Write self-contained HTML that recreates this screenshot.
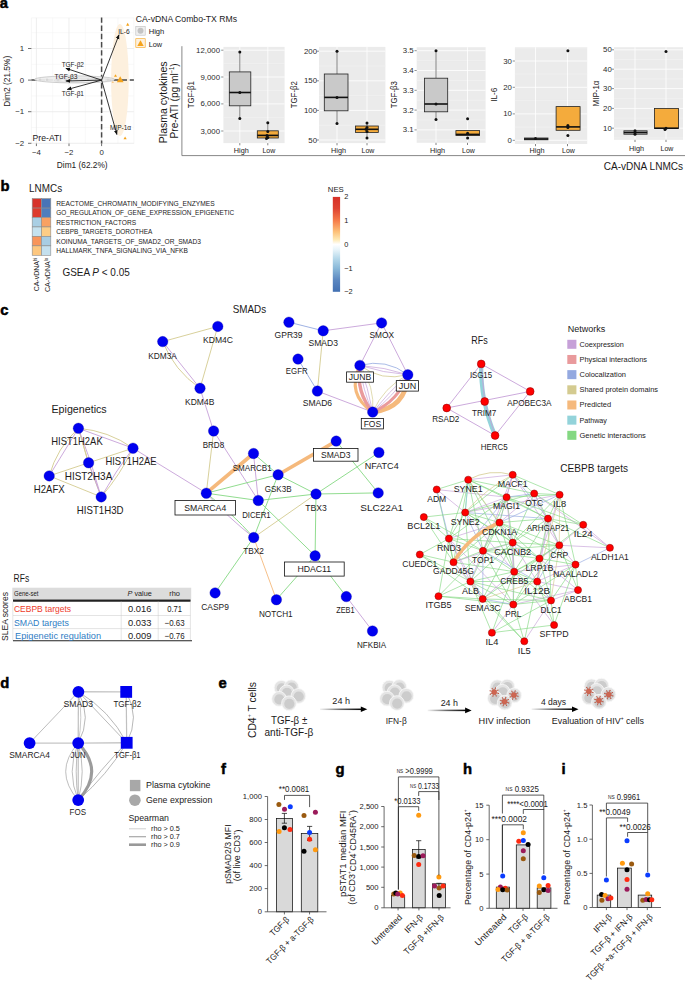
<!DOCTYPE html>
<html><head><meta charset="utf-8"><style>
html,body{margin:0;padding:0;background:#fff;}
svg{display:block;font-family:"Liberation Sans", sans-serif;}
</style></head><body>
<svg width="685" height="983" viewBox="0 0 685 983">
<rect width="685" height="983" fill="#fff"/>
<text x="-0.20" y="2.80" font-size="14.8" text-anchor="start" dominant-baseline="central" fill="#000" font-weight="bold" style="stroke:#000;stroke-width:0.5">a</text>
<line x1="52.70" y1="17.90" x2="52.70" y2="143.50" stroke="#f2f2f2" stroke-width="0.5" />
<line x1="85.30" y1="17.90" x2="85.30" y2="143.50" stroke="#f2f2f2" stroke-width="0.5" />
<line x1="117.90" y1="17.90" x2="117.90" y2="143.50" stroke="#f2f2f2" stroke-width="0.5" />
<line x1="31.40" y1="32.70" x2="133.90" y2="32.70" stroke="#f2f2f2" stroke-width="0.5" />
<line x1="31.40" y1="64.30" x2="133.90" y2="64.30" stroke="#f2f2f2" stroke-width="0.5" />
<line x1="31.40" y1="95.90" x2="133.90" y2="95.90" stroke="#f2f2f2" stroke-width="0.5" />
<line x1="31.40" y1="127.50" x2="133.90" y2="127.50" stroke="#f2f2f2" stroke-width="0.5" />
<line x1="31.40" y1="17.90" x2="31.40" y2="143.50" stroke="#f0f0f0" stroke-width="0.6" />
<line x1="133.90" y1="17.90" x2="133.90" y2="143.50" stroke="#f0f0f0" stroke-width="0.6" />
<line x1="31.40" y1="17.90" x2="133.90" y2="17.90" stroke="#f0f0f0" stroke-width="0.6" />
<line x1="36.40" y1="17.90" x2="36.40" y2="143.50" stroke="#e6e6e6" stroke-width="0.7" />
<line x1="69.00" y1="17.90" x2="69.00" y2="143.50" stroke="#e6e6e6" stroke-width="0.7" />
<line x1="101.60" y1="17.90" x2="101.60" y2="143.50" stroke="#e6e6e6" stroke-width="0.7" />
<line x1="31.40" y1="48.50" x2="133.90" y2="48.50" stroke="#e6e6e6" stroke-width="0.7" />
<line x1="31.40" y1="80.10" x2="133.90" y2="80.10" stroke="#e6e6e6" stroke-width="0.7" />
<line x1="31.40" y1="111.70" x2="133.90" y2="111.70" stroke="#e6e6e6" stroke-width="0.7" />
<line x1="31.40" y1="143.30" x2="133.90" y2="143.30" stroke="#e6e6e6" stroke-width="0.7" />
<line x1="36.40" y1="143.50" x2="36.40" y2="146.10" stroke="#333" stroke-width="0.7" />
<line x1="69.00" y1="143.50" x2="69.00" y2="146.10" stroke="#333" stroke-width="0.7" />
<line x1="101.60" y1="143.50" x2="101.60" y2="146.10" stroke="#333" stroke-width="0.7" />
<line x1="28.00" y1="48.50" x2="31.40" y2="48.50" stroke="#333" stroke-width="0.7" />
<line x1="28.00" y1="80.10" x2="31.40" y2="80.10" stroke="#333" stroke-width="0.7" />
<line x1="28.00" y1="111.70" x2="31.40" y2="111.70" stroke="#333" stroke-width="0.7" />
<line x1="28.00" y1="143.30" x2="31.40" y2="143.30" stroke="#333" stroke-width="0.7" />
<text x="24.20" y="48.50" font-size="7.84" text-anchor="end" dominant-baseline="central" fill="#2b2b2b">1</text>
<text x="24.20" y="80.10" font-size="7.84" text-anchor="end" dominant-baseline="central" fill="#2b2b2b">0</text>
<text x="24.20" y="111.70" font-size="7.84" text-anchor="end" dominant-baseline="central" fill="#2b2b2b">−1</text>
<text x="24.20" y="143.30" font-size="7.84" text-anchor="end" dominant-baseline="central" fill="#2b2b2b">−2</text>
<text x="36.40" y="152.30" font-size="7.84" text-anchor="middle" dominant-baseline="central" fill="#2b2b2b">−4</text>
<text x="69.00" y="152.30" font-size="7.84" text-anchor="middle" dominant-baseline="central" fill="#2b2b2b">−2</text>
<text x="101.60" y="152.30" font-size="7.84" text-anchor="middle" dominant-baseline="central" fill="#2b2b2b">0</text>
<text x="82.20" y="164.50" font-size="8.96" text-anchor="middle" dominant-baseline="central" fill="#1c1a1a" textLength="50.80" lengthAdjust="spacingAndGlyphs">Dim1 (62.2%)</text>
<text x="7.40" y="81.30" font-size="8.96" text-anchor="middle" dominant-baseline="central" fill="#1c1a1a" textLength="51.00" lengthAdjust="spacingAndGlyphs" transform="rotate(-90 7.40 81.30)">Dim2 (21.5%)</text>
<ellipse cx="119.9" cy="80.1" rx="8.8" ry="56" fill="#fdf0de"/>
<line x1="101.60" y1="17.40" x2="101.60" y2="143.50" stroke="#4a4a4a" stroke-width="1.5" stroke-dasharray="5.4 2.8"/>
<line x1="31.40" y1="80.10" x2="133.90" y2="80.10" stroke="#4a4a4a" stroke-width="1.5" stroke-dasharray="5.4 2.8"/>
<ellipse cx="74.5" cy="79.4" rx="40" ry="3.5" fill="#eeeeee" fill-opacity="0.92" stroke="#bcbcbc" stroke-width="0.7"/>
<ellipse cx="84" cy="80.4" rx="30" ry="2.2" fill="none" stroke="#d0d0d0" stroke-width="0.5"/>
<circle cx="40.00" cy="79.80" r="1.30" fill="#d6d6d6" stroke="none" stroke-width="0.5" />
<circle cx="47.00" cy="79.80" r="1.30" fill="#d6d6d6" stroke="none" stroke-width="0.5" />
<circle cx="58.00" cy="79.80" r="1.30" fill="#d6d6d6" stroke="none" stroke-width="0.5" />
<circle cx="66.00" cy="79.80" r="1.30" fill="#d6d6d6" stroke="none" stroke-width="0.5" />
<circle cx="88.00" cy="79.80" r="1.30" fill="#d6d6d6" stroke="none" stroke-width="0.5" />
<circle cx="96.00" cy="79.80" r="1.30" fill="#d6d6d6" stroke="none" stroke-width="0.5" />
<circle cx="108.00" cy="79.80" r="1.30" fill="#d6d6d6" stroke="none" stroke-width="0.5" />
<path d="M126.10 25.64 L129.30 25.64 L127.70 22.76 Z" fill="#f5a31a"/>
<path d="M114.00 76.85 L117.00 76.85 L115.50 74.15 Z" fill="#f5a31a"/>
<path d="M111.60 82.88 L114.00 82.88 L112.80 80.72 Z" fill="#f8c98a"/>
<path d="M116.80 82.36 L123.60 82.36 L120.20 76.24 Z" fill="#f5a31a"/>
<path d="M123.50 139.34 L126.70 139.34 L125.10 136.46 Z" fill="#f5a31a"/>
<defs><marker id="ah" viewBox="0 0 10 10" refX="9" refY="5" markerWidth="5.5" markerHeight="5.5" orient="auto-start-reverse"><path d="M0 1 L10 5 L0 9 z" fill="#111"/></marker></defs>
<line x1="101.60" y1="80.10" x2="119.00" y2="34.80" stroke="#111" stroke-width="0.85" marker-end="url(#ah)"/>
<line x1="101.60" y1="80.10" x2="65.90" y2="68.30" stroke="#111" stroke-width="0.85" marker-end="url(#ah)"/>
<line x1="101.60" y1="80.10" x2="65.90" y2="81.00" stroke="#111" stroke-width="0.85" marker-end="url(#ah)"/>
<line x1="101.60" y1="80.10" x2="67.30" y2="89.50" stroke="#111" stroke-width="0.85" marker-end="url(#ah)"/>
<line x1="101.60" y1="80.10" x2="116.90" y2="134.50" stroke="#111" stroke-width="0.85" marker-end="url(#ah)"/>
<text x="124.00" y="31.90" font-size="7.84" text-anchor="middle" dominant-baseline="central" fill="#1c1a1a" textLength="11.50" lengthAdjust="spacingAndGlyphs">IL-6</text>
<text x="72.80" y="64.80" font-size="7.84" text-anchor="middle" dominant-baseline="central" fill="#1c1a1a" textLength="22.30" lengthAdjust="spacingAndGlyphs">TGF-β2</text>
<text x="66.00" y="76.60" font-size="7.84" text-anchor="middle" dominant-baseline="central" fill="#1c1a1a" textLength="23.00" lengthAdjust="spacingAndGlyphs">TGF-β3</text>
<text x="72.80" y="93.70" font-size="7.84" text-anchor="middle" dominant-baseline="central" fill="#1c1a1a" textLength="22.30" lengthAdjust="spacingAndGlyphs">TGF-β1</text>
<text x="120.50" y="127.40" font-size="7.84" text-anchor="middle" dominant-baseline="central" fill="#1c1a1a" textLength="21.20" lengthAdjust="spacingAndGlyphs">MIP-1α</text>
<text x="32.60" y="138.20" font-size="8.96" text-anchor="start" dominant-baseline="central" fill="#1c1a1a" textLength="29.10" lengthAdjust="spacingAndGlyphs">Pre-ATI</text>
<text x="135.80" y="18.90" font-size="8.96" text-anchor="start" dominant-baseline="central" fill="#1c1a1a" textLength="101.20" lengthAdjust="spacingAndGlyphs">CA-vDNA Combo-TX RMs</text>
<rect x="135.80" y="26.40" width="9.40" height="8.80" fill="#f0f0f0" stroke="#bdbdbd" stroke-width="0.6" />
<circle cx="140.50" cy="30.80" r="3.00" fill="#c4c4c4" stroke="none" stroke-width="0.5" />
<text x="148.70" y="31.50" font-size="7.84" text-anchor="start" dominant-baseline="central" fill="#1c1a1a" textLength="15.60" lengthAdjust="spacingAndGlyphs">High</text>
<rect x="135.80" y="38.70" width="9.40" height="8.70" fill="#fdf0de" stroke="#f5a31a" stroke-width="0.6" />
<path d="M137.30 46.08 L143.70 46.08 L140.50 40.32 Z" fill="#f5a31a"/>
<text x="148.70" y="44.30" font-size="7.84" text-anchor="start" dominant-baseline="central" fill="#1c1a1a" textLength="13.50" lengthAdjust="spacingAndGlyphs">Low</text>
<line x1="181.90" y1="46.20" x2="181.90" y2="155.60" stroke="#555" stroke-width="0.7" />
<line x1="181.90" y1="155.60" x2="685.00" y2="155.60" stroke="#555" stroke-width="0.7" />
<text x="162.70" y="102.30" font-size="11.42" text-anchor="middle" dominant-baseline="central" fill="#1c1a1a" textLength="81.70" lengthAdjust="spacingAndGlyphs" transform="rotate(-90 162.70 102.30)">Plasma cytokines</text>
<text x="174.40" y="100.90" font-size="11.42" text-anchor="middle" dominant-baseline="central" fill="#1c1a1a" textLength="75.20" lengthAdjust="spacingAndGlyphs" transform="rotate(-90 174.40 100.90)">Pre-ATI (pg ml<tspan dy="-3" font-size="6.5">−1</tspan><tspan dy="3">)</tspan></text>
<text x="643.40" y="166.30" font-size="10.98" text-anchor="middle" dominant-baseline="central" fill="#1c1a1a" textLength="79.40" lengthAdjust="spacingAndGlyphs">CA-vDNA LNMCs</text>
<rect x="223.40" y="46.90" width="61.20" height="96.20" fill="#ebebeb" stroke="none" stroke-width="0.6" />
<line x1="223.40" y1="63.60" x2="284.60" y2="63.60" stroke="#f5f5f5" stroke-width="0.45" />
<line x1="223.40" y1="90.40" x2="284.60" y2="90.40" stroke="#f5f5f5" stroke-width="0.45" />
<line x1="223.40" y1="117.30" x2="284.60" y2="117.30" stroke="#f5f5f5" stroke-width="0.45" />
<line x1="223.40" y1="50.20" x2="284.60" y2="50.20" stroke="#ffffff" stroke-width="0.8" />
<text x="220.00" y="50.20" font-size="7.84" text-anchor="end" dominant-baseline="central" fill="#2b2b2b">12,000</text>
<line x1="221.20" y1="50.20" x2="223.40" y2="50.20" stroke="#444" stroke-width="0.6" />
<line x1="223.40" y1="77.00" x2="284.60" y2="77.00" stroke="#ffffff" stroke-width="0.8" />
<text x="220.00" y="77.00" font-size="7.84" text-anchor="end" dominant-baseline="central" fill="#2b2b2b">9,000</text>
<line x1="221.20" y1="77.00" x2="223.40" y2="77.00" stroke="#444" stroke-width="0.6" />
<line x1="223.40" y1="103.90" x2="284.60" y2="103.90" stroke="#ffffff" stroke-width="0.8" />
<text x="220.00" y="103.90" font-size="7.84" text-anchor="end" dominant-baseline="central" fill="#2b2b2b">6,000</text>
<line x1="221.20" y1="103.90" x2="223.40" y2="103.90" stroke="#444" stroke-width="0.6" />
<line x1="223.40" y1="131.00" x2="284.60" y2="131.00" stroke="#ffffff" stroke-width="0.8" />
<text x="220.00" y="131.00" font-size="7.84" text-anchor="end" dominant-baseline="central" fill="#2b2b2b">3,000</text>
<line x1="221.20" y1="131.00" x2="223.40" y2="131.00" stroke="#444" stroke-width="0.6" />
<line x1="239.80" y1="46.90" x2="239.80" y2="143.10" stroke="#ffffff" stroke-width="0.8" />
<line x1="239.80" y1="143.10" x2="239.80" y2="145.30" stroke="#333" stroke-width="0.6" />
<line x1="267.80" y1="46.90" x2="267.80" y2="143.10" stroke="#ffffff" stroke-width="0.8" />
<line x1="267.80" y1="143.10" x2="267.80" y2="145.30" stroke="#333" stroke-width="0.6" />
<text x="191.20" y="94.70" font-size="8.96" text-anchor="middle" dominant-baseline="central" fill="#1c1a1a" textLength="27.00" lengthAdjust="spacingAndGlyphs" transform="rotate(-90 191.20 94.70)">TGF-β1</text>
<line x1="239.80" y1="52.00" x2="239.80" y2="71.90" stroke="#333" stroke-width="0.6" />
<line x1="239.80" y1="105.80" x2="239.80" y2="118.60" stroke="#333" stroke-width="0.6" />
<rect x="229.30" y="71.90" width="21.50" height="33.90" fill="#c9c9c9" stroke="#222" stroke-width="0.8" />
<line x1="229.30" y1="92.50" x2="250.80" y2="92.50" stroke="#111" stroke-width="1.6" />
<line x1="267.80" y1="122.80" x2="267.80" y2="130.80" stroke="#333" stroke-width="0.6" />
<line x1="267.80" y1="138.00" x2="267.80" y2="138.60" stroke="#333" stroke-width="0.6" />
<rect x="257.30" y="130.80" width="21.00" height="7.20" fill="#f4ab3c" stroke="#222" stroke-width="0.8" />
<line x1="257.30" y1="135.40" x2="278.30" y2="135.40" stroke="#111" stroke-width="1.6" />
<circle cx="239.80" cy="52.00" r="1.50" fill="#111" stroke="none" stroke-width="0.5" />
<circle cx="239.80" cy="92.50" r="1.50" fill="#111" stroke="none" stroke-width="0.5" />
<circle cx="239.80" cy="118.60" r="1.50" fill="#111" stroke="none" stroke-width="0.5" />
<circle cx="267.80" cy="122.80" r="1.50" fill="#111" stroke="none" stroke-width="0.5" />
<circle cx="267.80" cy="131.60" r="1.50" fill="#111" stroke="none" stroke-width="0.5" />
<circle cx="267.00" cy="135.40" r="1.50" fill="#111" stroke="none" stroke-width="0.5" />
<circle cx="267.80" cy="137.60" r="1.50" fill="#111" stroke="none" stroke-width="0.5" />
<circle cx="266.50" cy="138.40" r="1.50" fill="#111" stroke="none" stroke-width="0.5" />
<text x="241.30" y="150.60" font-size="7.84" text-anchor="middle" dominant-baseline="central" fill="#1c1a1a" textLength="15.00" lengthAdjust="spacingAndGlyphs">High</text>
<text x="268.80" y="150.60" font-size="7.84" text-anchor="middle" dominant-baseline="central" fill="#1c1a1a" textLength="12.80" lengthAdjust="spacingAndGlyphs">Low</text>
<rect x="319.00" y="46.90" width="66.40" height="96.20" fill="#ebebeb" stroke="none" stroke-width="0.6" />
<line x1="319.00" y1="66.00" x2="385.40" y2="66.00" stroke="#f5f5f5" stroke-width="0.45" />
<line x1="319.00" y1="95.60" x2="385.40" y2="95.60" stroke="#f5f5f5" stroke-width="0.45" />
<line x1="319.00" y1="125.20" x2="385.40" y2="125.20" stroke="#f5f5f5" stroke-width="0.45" />
<line x1="319.00" y1="51.20" x2="385.40" y2="51.20" stroke="#ffffff" stroke-width="0.8" />
<text x="317.00" y="51.20" font-size="7.84" text-anchor="end" dominant-baseline="central" fill="#2b2b2b">200</text>
<line x1="316.80" y1="51.20" x2="319.00" y2="51.20" stroke="#444" stroke-width="0.6" />
<line x1="319.00" y1="80.80" x2="385.40" y2="80.80" stroke="#ffffff" stroke-width="0.8" />
<text x="317.00" y="80.80" font-size="7.84" text-anchor="end" dominant-baseline="central" fill="#2b2b2b">150</text>
<line x1="316.80" y1="80.80" x2="319.00" y2="80.80" stroke="#444" stroke-width="0.6" />
<line x1="319.00" y1="110.40" x2="385.40" y2="110.40" stroke="#ffffff" stroke-width="0.8" />
<text x="317.00" y="110.40" font-size="7.84" text-anchor="end" dominant-baseline="central" fill="#2b2b2b">100</text>
<line x1="316.80" y1="110.40" x2="319.00" y2="110.40" stroke="#444" stroke-width="0.6" />
<line x1="319.00" y1="140.00" x2="385.40" y2="140.00" stroke="#ffffff" stroke-width="0.8" />
<text x="317.00" y="140.00" font-size="7.84" text-anchor="end" dominant-baseline="central" fill="#2b2b2b">50</text>
<line x1="316.80" y1="140.00" x2="319.00" y2="140.00" stroke="#444" stroke-width="0.6" />
<line x1="337.00" y1="46.90" x2="337.00" y2="143.10" stroke="#ffffff" stroke-width="0.8" />
<line x1="337.00" y1="143.10" x2="337.00" y2="145.30" stroke="#333" stroke-width="0.6" />
<line x1="367.00" y1="46.90" x2="367.00" y2="143.10" stroke="#ffffff" stroke-width="0.8" />
<line x1="367.00" y1="143.10" x2="367.00" y2="145.30" stroke="#333" stroke-width="0.6" />
<text x="293.60" y="94.70" font-size="8.96" text-anchor="middle" dominant-baseline="central" fill="#1c1a1a" textLength="27.00" lengthAdjust="spacingAndGlyphs" transform="rotate(-90 293.60 94.70)">TGF-β2</text>
<line x1="337.00" y1="51.20" x2="337.00" y2="74.00" stroke="#333" stroke-width="0.6" />
<line x1="337.00" y1="110.80" x2="337.00" y2="123.40" stroke="#333" stroke-width="0.6" />
<rect x="324.30" y="74.00" width="23.70" height="36.80" fill="#c9c9c9" stroke="#222" stroke-width="0.8" />
<line x1="324.30" y1="97.40" x2="348.00" y2="97.40" stroke="#111" stroke-width="1.6" />
<line x1="367.00" y1="123.00" x2="367.00" y2="126.00" stroke="#333" stroke-width="0.6" />
<line x1="367.00" y1="132.40" x2="367.00" y2="138.00" stroke="#333" stroke-width="0.6" />
<rect x="355.50" y="126.00" width="22.80" height="6.40" fill="#f4ab3c" stroke="#222" stroke-width="0.8" />
<line x1="355.50" y1="129.30" x2="378.30" y2="129.30" stroke="#111" stroke-width="1.6" />
<circle cx="337.00" cy="51.20" r="1.50" fill="#111" stroke="none" stroke-width="0.5" />
<circle cx="337.00" cy="97.40" r="1.50" fill="#111" stroke="none" stroke-width="0.5" />
<circle cx="337.00" cy="123.40" r="1.50" fill="#111" stroke="none" stroke-width="0.5" />
<circle cx="367.00" cy="123.00" r="1.50" fill="#111" stroke="none" stroke-width="0.5" />
<circle cx="367.00" cy="127.50" r="1.50" fill="#111" stroke="none" stroke-width="0.5" />
<circle cx="366.00" cy="129.30" r="1.50" fill="#111" stroke="none" stroke-width="0.5" />
<circle cx="367.00" cy="131.50" r="1.50" fill="#111" stroke="none" stroke-width="0.5" />
<circle cx="367.00" cy="138.00" r="1.50" fill="#111" stroke="none" stroke-width="0.5" />
<text x="338.50" y="150.60" font-size="7.84" text-anchor="middle" dominant-baseline="central" fill="#1c1a1a" textLength="15.00" lengthAdjust="spacingAndGlyphs">High</text>
<text x="368.00" y="150.60" font-size="7.84" text-anchor="middle" dominant-baseline="central" fill="#1c1a1a" textLength="12.80" lengthAdjust="spacingAndGlyphs">Low</text>
<rect x="416.70" y="47.20" width="68.90" height="95.60" fill="#ebebeb" stroke="none" stroke-width="0.6" />
<line x1="416.70" y1="60.60" x2="485.60" y2="60.60" stroke="#f5f5f5" stroke-width="0.45" />
<line x1="416.70" y1="80.40" x2="485.60" y2="80.40" stroke="#f5f5f5" stroke-width="0.45" />
<line x1="416.70" y1="100.20" x2="485.60" y2="100.20" stroke="#f5f5f5" stroke-width="0.45" />
<line x1="416.70" y1="120.00" x2="485.60" y2="120.00" stroke="#f5f5f5" stroke-width="0.45" />
<line x1="416.70" y1="139.80" x2="485.60" y2="139.80" stroke="#f5f5f5" stroke-width="0.45" />
<line x1="416.70" y1="50.70" x2="485.60" y2="50.70" stroke="#ffffff" stroke-width="0.8" />
<text x="413.70" y="50.70" font-size="7.84" text-anchor="end" dominant-baseline="central" fill="#2b2b2b">3.5</text>
<line x1="414.50" y1="50.70" x2="416.70" y2="50.70" stroke="#444" stroke-width="0.6" />
<line x1="416.70" y1="70.50" x2="485.60" y2="70.50" stroke="#ffffff" stroke-width="0.8" />
<text x="413.70" y="70.50" font-size="7.84" text-anchor="end" dominant-baseline="central" fill="#2b2b2b">3.4</text>
<line x1="414.50" y1="70.50" x2="416.70" y2="70.50" stroke="#444" stroke-width="0.6" />
<line x1="416.70" y1="90.30" x2="485.60" y2="90.30" stroke="#ffffff" stroke-width="0.8" />
<text x="413.70" y="90.30" font-size="7.84" text-anchor="end" dominant-baseline="central" fill="#2b2b2b">3.3</text>
<line x1="414.50" y1="90.30" x2="416.70" y2="90.30" stroke="#444" stroke-width="0.6" />
<line x1="416.70" y1="110.10" x2="485.60" y2="110.10" stroke="#ffffff" stroke-width="0.8" />
<text x="413.70" y="110.10" font-size="7.84" text-anchor="end" dominant-baseline="central" fill="#2b2b2b">3.2</text>
<line x1="414.50" y1="110.10" x2="416.70" y2="110.10" stroke="#444" stroke-width="0.6" />
<line x1="416.70" y1="129.90" x2="485.60" y2="129.90" stroke="#ffffff" stroke-width="0.8" />
<text x="413.70" y="129.90" font-size="7.84" text-anchor="end" dominant-baseline="central" fill="#2b2b2b">3.1</text>
<line x1="414.50" y1="129.90" x2="416.70" y2="129.90" stroke="#444" stroke-width="0.6" />
<line x1="436.00" y1="47.20" x2="436.00" y2="142.80" stroke="#ffffff" stroke-width="0.8" />
<line x1="436.00" y1="142.80" x2="436.00" y2="145.00" stroke="#333" stroke-width="0.6" />
<line x1="467.50" y1="47.20" x2="467.50" y2="142.80" stroke="#ffffff" stroke-width="0.8" />
<line x1="467.50" y1="142.80" x2="467.50" y2="145.00" stroke="#333" stroke-width="0.6" />
<text x="394.30" y="94.70" font-size="8.96" text-anchor="middle" dominant-baseline="central" fill="#1c1a1a" textLength="27.00" lengthAdjust="spacingAndGlyphs" transform="rotate(-90 394.30 94.70)">TGF-β3</text>
<line x1="436.00" y1="50.70" x2="436.00" y2="78.20" stroke="#333" stroke-width="0.6" />
<line x1="436.00" y1="111.80" x2="436.00" y2="119.60" stroke="#333" stroke-width="0.6" />
<rect x="424.50" y="78.20" width="23.20" height="33.60" fill="#c9c9c9" stroke="#222" stroke-width="0.8" />
<line x1="424.50" y1="104.00" x2="447.70" y2="104.00" stroke="#111" stroke-width="1.6" />
<rect x="455.90" y="130.60" width="23.70" height="4.90" fill="#f4ab3c" stroke="#222" stroke-width="0.8" />
<line x1="455.90" y1="134.40" x2="479.60" y2="134.40" stroke="#111" stroke-width="1.6" />
<circle cx="436.00" cy="50.70" r="1.50" fill="#111" stroke="none" stroke-width="0.5" />
<circle cx="436.00" cy="104.00" r="1.50" fill="#111" stroke="none" stroke-width="0.5" />
<circle cx="436.00" cy="119.60" r="1.50" fill="#111" stroke="none" stroke-width="0.5" />
<circle cx="467.60" cy="118.80" r="1.50" fill="#111" stroke="none" stroke-width="0.5" />
<circle cx="467.60" cy="133.20" r="1.50" fill="#111" stroke="none" stroke-width="0.5" />
<circle cx="467.60" cy="138.10" r="1.50" fill="#111" stroke="none" stroke-width="0.5" />
<text x="437.50" y="150.60" font-size="7.84" text-anchor="middle" dominant-baseline="central" fill="#1c1a1a" textLength="15.00" lengthAdjust="spacingAndGlyphs">High</text>
<text x="468.50" y="150.60" font-size="7.84" text-anchor="middle" dominant-baseline="central" fill="#1c1a1a" textLength="12.80" lengthAdjust="spacingAndGlyphs">Low</text>
<rect x="514.90" y="47.20" width="72.30" height="96.80" fill="#ebebeb" stroke="none" stroke-width="0.6" />
<line x1="514.90" y1="47.85" x2="587.20" y2="47.85" stroke="#f5f5f5" stroke-width="0.45" />
<line x1="514.90" y1="74.15" x2="587.20" y2="74.15" stroke="#f5f5f5" stroke-width="0.45" />
<line x1="514.90" y1="100.45" x2="587.20" y2="100.45" stroke="#f5f5f5" stroke-width="0.45" />
<line x1="514.90" y1="127.05" x2="587.20" y2="127.05" stroke="#f5f5f5" stroke-width="0.45" />
<line x1="514.90" y1="61.00" x2="587.20" y2="61.00" stroke="#ffffff" stroke-width="0.8" />
<text x="511.90" y="61.00" font-size="7.84" text-anchor="end" dominant-baseline="central" fill="#2b2b2b">30</text>
<line x1="512.70" y1="61.00" x2="514.90" y2="61.00" stroke="#444" stroke-width="0.6" />
<line x1="514.90" y1="87.30" x2="587.20" y2="87.30" stroke="#ffffff" stroke-width="0.8" />
<text x="511.90" y="87.30" font-size="7.84" text-anchor="end" dominant-baseline="central" fill="#2b2b2b">20</text>
<line x1="512.70" y1="87.30" x2="514.90" y2="87.30" stroke="#444" stroke-width="0.6" />
<line x1="514.90" y1="113.90" x2="587.20" y2="113.90" stroke="#ffffff" stroke-width="0.8" />
<text x="511.90" y="113.90" font-size="7.84" text-anchor="end" dominant-baseline="central" fill="#2b2b2b">10</text>
<line x1="512.70" y1="113.90" x2="514.90" y2="113.90" stroke="#444" stroke-width="0.6" />
<line x1="514.90" y1="140.30" x2="587.20" y2="140.30" stroke="#ffffff" stroke-width="0.8" />
<text x="511.90" y="140.30" font-size="7.84" text-anchor="end" dominant-baseline="central" fill="#2b2b2b">0</text>
<line x1="512.70" y1="140.30" x2="514.90" y2="140.30" stroke="#444" stroke-width="0.6" />
<line x1="535.50" y1="47.20" x2="535.50" y2="144.00" stroke="#ffffff" stroke-width="0.8" />
<line x1="535.50" y1="144.00" x2="535.50" y2="146.20" stroke="#333" stroke-width="0.6" />
<line x1="567.50" y1="47.20" x2="567.50" y2="144.00" stroke="#ffffff" stroke-width="0.8" />
<line x1="567.50" y1="144.00" x2="567.50" y2="146.20" stroke="#333" stroke-width="0.6" />
<text x="494.20" y="94.70" font-size="8.96" text-anchor="middle" dominant-baseline="central" fill="#1c1a1a" textLength="14.00" lengthAdjust="spacingAndGlyphs" transform="rotate(-90 494.20 94.70)">IL-6</text>
<rect x="524.40" y="138.00" width="23.60" height="1.80" fill="#c9c9c9" stroke="#222" stroke-width="0.8" />
<line x1="524.40" y1="139.00" x2="548.00" y2="139.00" stroke="#111" stroke-width="1.6" />
<rect x="556.10" y="106.60" width="24.00" height="23.70" fill="#f4ab3c" stroke="#222" stroke-width="0.8" />
<line x1="556.10" y1="126.90" x2="580.10" y2="126.90" stroke="#111" stroke-width="1.6" />
<circle cx="535.50" cy="138.60" r="1.50" fill="#111" stroke="none" stroke-width="0.5" />
<circle cx="567.90" cy="50.70" r="1.50" fill="#111" stroke="none" stroke-width="0.5" />
<circle cx="567.90" cy="125.50" r="1.50" fill="#111" stroke="none" stroke-width="0.5" />
<circle cx="567.90" cy="127.50" r="1.50" fill="#111" stroke="none" stroke-width="0.5" />
<circle cx="567.90" cy="135.60" r="1.50" fill="#111" stroke="none" stroke-width="0.5" />
<text x="537.00" y="150.60" font-size="7.84" text-anchor="middle" dominant-baseline="central" fill="#1c1a1a" textLength="15.00" lengthAdjust="spacingAndGlyphs">High</text>
<text x="568.50" y="150.60" font-size="7.84" text-anchor="middle" dominant-baseline="central" fill="#1c1a1a" textLength="12.80" lengthAdjust="spacingAndGlyphs">Low</text>
<rect x="614.00" y="47.20" width="69.00" height="92.60" fill="#ebebeb" stroke="none" stroke-width="0.6" />
<line x1="614.00" y1="59.50" x2="683.00" y2="59.50" stroke="#f5f5f5" stroke-width="0.45" />
<line x1="614.00" y1="78.90" x2="683.00" y2="78.90" stroke="#f5f5f5" stroke-width="0.45" />
<line x1="614.00" y1="98.30" x2="683.00" y2="98.30" stroke="#f5f5f5" stroke-width="0.45" />
<line x1="614.00" y1="118.10" x2="683.00" y2="118.10" stroke="#f5f5f5" stroke-width="0.45" />
<line x1="614.00" y1="137.90" x2="683.00" y2="137.90" stroke="#f5f5f5" stroke-width="0.45" />
<line x1="614.00" y1="49.80" x2="683.00" y2="49.80" stroke="#ffffff" stroke-width="0.8" />
<text x="611.80" y="49.80" font-size="7.84" text-anchor="end" dominant-baseline="central" fill="#2b2b2b">50</text>
<line x1="611.80" y1="49.80" x2="614.00" y2="49.80" stroke="#444" stroke-width="0.6" />
<line x1="614.00" y1="69.20" x2="683.00" y2="69.20" stroke="#ffffff" stroke-width="0.8" />
<text x="611.80" y="69.20" font-size="7.84" text-anchor="end" dominant-baseline="central" fill="#2b2b2b">40</text>
<line x1="611.80" y1="69.20" x2="614.00" y2="69.20" stroke="#444" stroke-width="0.6" />
<line x1="614.00" y1="88.60" x2="683.00" y2="88.60" stroke="#ffffff" stroke-width="0.8" />
<text x="611.80" y="88.60" font-size="7.84" text-anchor="end" dominant-baseline="central" fill="#2b2b2b">30</text>
<line x1="611.80" y1="88.60" x2="614.00" y2="88.60" stroke="#444" stroke-width="0.6" />
<line x1="614.00" y1="108.40" x2="683.00" y2="108.40" stroke="#ffffff" stroke-width="0.8" />
<text x="611.80" y="108.40" font-size="7.84" text-anchor="end" dominant-baseline="central" fill="#2b2b2b">20</text>
<line x1="611.80" y1="108.40" x2="614.00" y2="108.40" stroke="#444" stroke-width="0.6" />
<line x1="614.00" y1="128.20" x2="683.00" y2="128.20" stroke="#ffffff" stroke-width="0.8" />
<text x="611.80" y="128.20" font-size="7.84" text-anchor="end" dominant-baseline="central" fill="#2b2b2b">10</text>
<line x1="611.80" y1="128.20" x2="614.00" y2="128.20" stroke="#444" stroke-width="0.6" />
<line x1="635.00" y1="47.20" x2="635.00" y2="139.80" stroke="#ffffff" stroke-width="0.8" />
<line x1="635.00" y1="139.80" x2="635.00" y2="142.00" stroke="#333" stroke-width="0.6" />
<line x1="666.00" y1="47.20" x2="666.00" y2="139.80" stroke="#ffffff" stroke-width="0.8" />
<line x1="666.00" y1="139.80" x2="666.00" y2="142.00" stroke="#333" stroke-width="0.6" />
<text x="595.90" y="93.50" font-size="8.96" text-anchor="middle" dominant-baseline="central" fill="#1c1a1a" textLength="26.00" lengthAdjust="spacingAndGlyphs" transform="rotate(-90 595.90 93.50)">MIP-1α</text>
<line x1="635.00" y1="130.00" x2="635.00" y2="130.80" stroke="#333" stroke-width="0.6" />
<line x1="635.00" y1="134.20" x2="635.00" y2="135.00" stroke="#333" stroke-width="0.6" />
<rect x="623.90" y="130.80" width="23.20" height="3.40" fill="#c9c9c9" stroke="#222" stroke-width="0.8" />
<line x1="623.90" y1="132.50" x2="647.10" y2="132.50" stroke="#111" stroke-width="1.6" />
<rect x="654.40" y="108.40" width="24.10" height="20.00" fill="#f4ab3c" stroke="#222" stroke-width="0.8" />
<line x1="654.40" y1="128.20" x2="678.50" y2="128.20" stroke="#111" stroke-width="1.6" />
<circle cx="635.00" cy="130.80" r="1.50" fill="#111" stroke="none" stroke-width="0.5" />
<circle cx="635.00" cy="132.50" r="1.50" fill="#111" stroke="none" stroke-width="0.5" />
<circle cx="635.00" cy="134.20" r="1.50" fill="#111" stroke="none" stroke-width="0.5" />
<circle cx="666.00" cy="51.50" r="1.50" fill="#111" stroke="none" stroke-width="0.5" />
<circle cx="666.00" cy="128.20" r="1.50" fill="#111" stroke="none" stroke-width="0.5" />
<circle cx="665.00" cy="129.50" r="1.50" fill="#111" stroke="none" stroke-width="0.5" />
<text x="636.50" y="148.00" font-size="7.84" text-anchor="middle" dominant-baseline="central" fill="#1c1a1a" textLength="15.00" lengthAdjust="spacingAndGlyphs">High</text>
<text x="667.00" y="148.00" font-size="7.84" text-anchor="middle" dominant-baseline="central" fill="#1c1a1a" textLength="12.80" lengthAdjust="spacingAndGlyphs">Low</text>
<text x="0.40" y="186.40" font-size="14.8" text-anchor="start" dominant-baseline="central" fill="#000" font-weight="bold" style="stroke:#000;stroke-width:0.5">b</text>
<text x="29.10" y="187.50" font-size="10.53" text-anchor="start" dominant-baseline="central" fill="#1c1a1a" textLength="33.00" lengthAdjust="spacingAndGlyphs">LNMCs</text>
<rect x="32.20" y="198.60" width="9.30" height="9.45" fill="#d7322a" stroke="#8c8c8c" stroke-width="0.6" />
<rect x="41.50" y="198.60" width="9.30" height="9.45" fill="#4874b7" stroke="#8c8c8c" stroke-width="0.6" />
<rect x="32.20" y="208.05" width="9.30" height="9.45" fill="#dd3c2d" stroke="#8c8c8c" stroke-width="0.6" />
<rect x="41.50" y="208.05" width="9.30" height="9.45" fill="#4f7ebd" stroke="#8c8c8c" stroke-width="0.6" />
<rect x="32.20" y="217.50" width="9.30" height="9.45" fill="#a9cfe4" stroke="#8c8c8c" stroke-width="0.6" />
<rect x="41.50" y="217.50" width="9.30" height="9.45" fill="#f9a162" stroke="#8c8c8c" stroke-width="0.6" />
<rect x="32.20" y="226.95" width="9.30" height="9.45" fill="#c5e2ef" stroke="#8c8c8c" stroke-width="0.6" />
<rect x="41.50" y="226.95" width="9.30" height="9.45" fill="#fdcd86" stroke="#8c8c8c" stroke-width="0.6" />
<rect x="32.20" y="236.40" width="9.30" height="9.45" fill="#f8955a" stroke="#8c8c8c" stroke-width="0.6" />
<rect x="41.50" y="236.40" width="9.30" height="9.45" fill="#a8cde3" stroke="#8c8c8c" stroke-width="0.6" />
<rect x="32.20" y="245.85" width="9.30" height="9.45" fill="#fdc77f" stroke="#8c8c8c" stroke-width="0.6" />
<rect x="41.50" y="245.85" width="9.30" height="9.45" fill="#c4e0ee" stroke="#8c8c8c" stroke-width="0.6" />
<text x="56.30" y="203.32" font-size="7.39" text-anchor="start" dominant-baseline="central" fill="#1c1a1a" textLength="158.30" lengthAdjust="spacingAndGlyphs">REACTOME_CHROMATIN_MODIFYING_ENZYMES</text>
<text x="56.30" y="212.78" font-size="7.39" text-anchor="start" dominant-baseline="central" fill="#1c1a1a" textLength="177.90" lengthAdjust="spacingAndGlyphs">GO_REGULATION_OF_GENE_EXPRESSION_EPIGENETIC</text>
<text x="56.30" y="222.22" font-size="7.39" text-anchor="start" dominant-baseline="central" fill="#1c1a1a" textLength="79.80" lengthAdjust="spacingAndGlyphs">RESTRICTION_FACTORS</text>
<text x="56.30" y="231.67" font-size="7.39" text-anchor="start" dominant-baseline="central" fill="#1c1a1a" textLength="96.10" lengthAdjust="spacingAndGlyphs">CEBPB_TARGETS_DOROTHEA</text>
<text x="56.30" y="241.12" font-size="7.39" text-anchor="start" dominant-baseline="central" fill="#1c1a1a" textLength="144.70" lengthAdjust="spacingAndGlyphs">KOINUMA_TARGETS_OF_SMAD2_OR_SMAD3</text>
<text x="56.30" y="250.57" font-size="7.39" text-anchor="start" dominant-baseline="central" fill="#1c1a1a" textLength="131.50" lengthAdjust="spacingAndGlyphs">HALLMARK_TNFA_SIGNALING_VIA_NFKB</text>
<text x="36.90" y="257.80" font-size="7.39" text-anchor="end" dominant-baseline="central" fill="#1c1a1a" textLength="33.50" lengthAdjust="spacingAndGlyphs" transform="rotate(-90 36.90 257.80)">CA-vDNA<tspan dy="-1.5" font-size="4.5">hi</tspan></text>
<text x="47.80" y="257.80" font-size="7.39" text-anchor="end" dominant-baseline="central" fill="#1c1a1a" textLength="34.30" lengthAdjust="spacingAndGlyphs" transform="rotate(-90 47.80 257.80)">CA-vDNA<tspan dy="-1.5" font-size="4.5">lo</tspan></text>
<text x="62.40" y="272.00" font-size="10.75" text-anchor="start" dominant-baseline="central" fill="#1c1a1a" textLength="67.40" lengthAdjust="spacingAndGlyphs">GSEA <tspan font-style="italic">P</tspan> &lt; 0.05</text>
<defs><linearGradient id="nes" x1="0" y1="0" x2="0" y2="1">
<stop offset="0" stop-color="#d73027"/><stop offset="0.12" stop-color="#de4231"/><stop offset="0.25" stop-color="#f67c4a"/>
<stop offset="0.37" stop-color="#fdc27a"/><stop offset="0.45" stop-color="#fee9b5"/><stop offset="0.5" stop-color="#ffffff"/>
<stop offset="0.56" stop-color="#e6f3f9"/><stop offset="0.65" stop-color="#b5d8ea"/><stop offset="0.75" stop-color="#8ab9d9"/>
<stop offset="0.88" stop-color="#5a86c0"/><stop offset="1" stop-color="#4270b2"/></linearGradient></defs>
<rect x="332.80" y="196.90" width="7.30" height="94.90" fill="url(#nes)" stroke="none" stroke-width="0.6" />
<text x="335.80" y="189.60" font-size="7.62" text-anchor="middle" dominant-baseline="central" fill="#1c1a1a" textLength="16.00" lengthAdjust="spacingAndGlyphs">NES</text>
<text x="344.30" y="196.90" font-size="7.39" text-anchor="start" dominant-baseline="central" fill="#1c1a1a">2</text>
<text x="344.30" y="220.62" font-size="7.39" text-anchor="start" dominant-baseline="central" fill="#1c1a1a">1</text>
<text x="344.30" y="244.35" font-size="7.39" text-anchor="start" dominant-baseline="central" fill="#1c1a1a">0</text>
<text x="344.30" y="268.08" font-size="7.39" text-anchor="start" dominant-baseline="central" fill="#1c1a1a">−1</text>
<text x="344.30" y="291.80" font-size="7.39" text-anchor="start" dominant-baseline="central" fill="#1c1a1a">−2</text>
<text x="0.20" y="309.80" font-size="14.8" text-anchor="start" dominant-baseline="central" fill="#000" font-weight="bold" style="stroke:#000;stroke-width:0.5">c</text>
<line x1="162.70" y1="341.60" x2="217.80" y2="326.40" stroke="#d4cb90" stroke-width="0.9" />
<line x1="217.80" y1="326.40" x2="200.00" y2="388.30" stroke="#d4cb90" stroke-width="0.9" />
<path d="M162.70 341.60 Q174.32 370.57 200.00 388.30" fill="none" stroke="#d4cb90" stroke-width="0.9" />
<line x1="162.70" y1="341.60" x2="200.00" y2="388.30" stroke="#c6a0d8" stroke-width="0.9" />
<line x1="200.00" y1="388.30" x2="213.60" y2="431.00" stroke="#c6a0d8" stroke-width="0.9" />
<line x1="213.60" y1="431.00" x2="206.30" y2="493.20" stroke="#d4cb90" stroke-width="0.9" />
<line x1="213.60" y1="431.00" x2="258.30" y2="500.50" stroke="#c6a0d8" stroke-width="0.9" />
<line x1="288.90" y1="322.20" x2="323.20" y2="330.80" stroke="#94a9e0" stroke-width="0.9" />
<line x1="323.20" y1="330.80" x2="381.60" y2="322.90" stroke="#c6a0d8" stroke-width="0.9" />
<line x1="323.20" y1="330.80" x2="317.40" y2="391.10" stroke="#d4cb90" stroke-width="0.9" />
<line x1="298.00" y1="359.10" x2="317.40" y2="391.10" stroke="#94a9e0" stroke-width="0.9" />
<line x1="317.40" y1="391.10" x2="372.70" y2="412.10" stroke="#c6a0d8" stroke-width="0.9" />
<line x1="381.60" y1="322.90" x2="359.90" y2="365.40" stroke="#c6a0d8" stroke-width="0.9" />
<line x1="381.60" y1="322.90" x2="407.80" y2="374.70" stroke="#c6a0d8" stroke-width="0.9" />
<path d="M359.90 365.40 Q386.14 358.27 407.80 374.70" fill="none" stroke="#94a9e0" stroke-width="0.8" />
<path d="M359.90 365.40 Q384.42 367.10 407.80 374.70" fill="none" stroke="#c6a0d8" stroke-width="0.7" />
<path d="M359.90 365.40 Q383.28 373.00 407.80 374.70" fill="none" stroke="#c6a0d8" stroke-width="0.7" />
<path d="M359.90 365.40 Q381.56 381.83 407.80 374.70" fill="none" stroke="#d4cb90" stroke-width="0.8" />
<path d="M359.90 365.40 Q346.05 394.30 372.70 412.10" fill="none" stroke="#f5b97c" stroke-width="3.0" />
<path d="M359.90 365.40 Q355.69 391.66 372.70 412.10" fill="none" stroke="#e99a9c" stroke-width="3.4" />
<path d="M359.90 365.40 Q362.44 389.81 372.70 412.10" fill="none" stroke="#c6a0d8" stroke-width="0.7" />
<path d="M359.90 365.40 Q368.23 388.22 372.70 412.10" fill="none" stroke="#c6a0d8" stroke-width="0.7" />
<path d="M359.90 365.40 Q374.98 386.37 372.70 412.10" fill="none" stroke="#d4cb90" stroke-width="0.7" />
<path d="M407.80 374.70 Q406.29 408.46 372.70 412.10" fill="none" stroke="#f5b97c" stroke-width="4.6" />
<path d="M407.80 374.70 Q398.27 400.93 372.70 412.10" fill="none" stroke="#e99a9c" stroke-width="3.0" />
<path d="M407.80 374.70 Q393.17 396.14 372.70 412.10" fill="none" stroke="#c6a0d8" stroke-width="0.7" />
<path d="M407.80 374.70 Q388.79 392.03 372.70 412.10" fill="none" stroke="#c6a0d8" stroke-width="0.7" />
<path d="M407.80 374.70 Q383.69 387.24 372.70 412.10" fill="none" stroke="#d4cb90" stroke-width="0.7" />
<path d="M78.40 428.30 Q108.44 430.73 133.00 448.20" fill="none" stroke="#d4cb90" stroke-width="0.9" />
<line x1="78.40" y1="428.30" x2="133.00" y2="448.20" stroke="#c6a0d8" stroke-width="0.9" />
<path d="M78.40 428.30 Q56.98 447.92 49.20 475.90" fill="none" stroke="#d4cb90" stroke-width="0.9" />
<line x1="78.40" y1="428.30" x2="49.20" y2="475.90" stroke="#c6a0d8" stroke-width="0.9" />
<line x1="78.40" y1="428.30" x2="88.60" y2="462.80" stroke="#d4cb90" stroke-width="0.9" />
<path d="M78.40 428.30 Q86.95 463.55 101.20 496.90" fill="none" stroke="#d4cb90" stroke-width="0.9" />
<path d="M78.40 428.30 Q91.70 461.97 101.20 496.90" fill="none" stroke="#c6a0d8" stroke-width="0.9" />
<line x1="133.00" y1="448.20" x2="88.60" y2="462.80" stroke="#d4cb90" stroke-width="0.9" />
<path d="M133.00 448.20 Q120.45 474.74 101.20 496.90" fill="none" stroke="#d4cb90" stroke-width="0.9" />
<path d="M133.00 448.20 Q115.43 471.46 101.20 496.90" fill="none" stroke="#c6a0d8" stroke-width="0.9" />
<line x1="49.20" y1="475.90" x2="88.60" y2="462.80" stroke="#d4cb90" stroke-width="0.9" />
<line x1="49.20" y1="475.90" x2="101.20" y2="496.90" stroke="#d4cb90" stroke-width="0.9" />
<line x1="88.60" y1="462.80" x2="101.20" y2="496.90" stroke="#c6a0d8" stroke-width="0.9" />
<line x1="133.00" y1="448.20" x2="206.30" y2="493.20" stroke="#c6a0d8" stroke-width="0.9" />
<line x1="206.30" y1="493.20" x2="253.50" y2="453.50" stroke="#c6a0d8" stroke-width="0.9" />
<line x1="206.30" y1="493.20" x2="278.10" y2="474.70" stroke="#84d882" stroke-width="0.9" />
<line x1="206.30" y1="493.20" x2="258.30" y2="500.50" stroke="#84d882" stroke-width="0.9" />
<path d="M206.30 493.20 Q232.05 513.16 253.70 537.50" fill="none" stroke="#84d882" stroke-width="0.9" />
<path d="M206.30 493.20 Q227.95 517.54 253.70 537.50" fill="none" stroke="#c6a0d8" stroke-width="0.9" />
<line x1="253.50" y1="453.50" x2="278.10" y2="474.70" stroke="#84d882" stroke-width="0.9" />
<line x1="253.50" y1="453.50" x2="258.30" y2="500.50" stroke="#c6a0d8" stroke-width="0.9" />
<line x1="278.10" y1="474.70" x2="316.00" y2="494.00" stroke="#84d882" stroke-width="0.9" />
<line x1="278.10" y1="474.70" x2="253.70" y2="537.50" stroke="#84d882" stroke-width="0.9" />
<line x1="258.30" y1="500.50" x2="316.00" y2="494.00" stroke="#84d882" stroke-width="0.9" />
<line x1="336.20" y1="441.10" x2="378.20" y2="492.90" stroke="#84d882" stroke-width="0.9" />
<line x1="378.90" y1="452.50" x2="316.00" y2="494.00" stroke="#84d882" stroke-width="0.9" />
<line x1="316.00" y1="494.00" x2="378.20" y2="492.90" stroke="#84d882" stroke-width="0.9" />
<line x1="316.00" y1="494.00" x2="253.70" y2="537.50" stroke="#d4cb90" stroke-width="0.9" />
<line x1="316.00" y1="494.00" x2="315.10" y2="555.80" stroke="#84d882" stroke-width="0.9" />
<line x1="258.30" y1="500.50" x2="315.10" y2="555.80" stroke="#84d882" stroke-width="0.9" />
<line x1="253.70" y1="537.50" x2="215.10" y2="592.90" stroke="#84d882" stroke-width="0.9" />
<line x1="253.70" y1="537.50" x2="276.40" y2="599.70" stroke="#f5b97c" stroke-width="0.9" />
<line x1="315.10" y1="555.80" x2="276.40" y2="599.70" stroke="#84d882" stroke-width="0.9" />
<line x1="315.10" y1="555.80" x2="346.30" y2="596.60" stroke="#84d882" stroke-width="0.9" />
<line x1="346.30" y1="596.60" x2="372.50" y2="631.00" stroke="#c6a0d8" stroke-width="0.9" />
<line x1="206.30" y1="493.20" x2="253.50" y2="453.50" stroke="#f5b97c" stroke-width="3.6" />
<line x1="278.10" y1="474.70" x2="336.20" y2="441.10" stroke="#f5b97c" stroke-width="3.6" />
<path d="M481.20 363.90 Q480.30 401.22 495.10 435.50" fill="none" stroke="#93d3da" stroke-width="4.2" />
<line x1="481.20" y1="363.90" x2="484.70" y2="401.50" stroke="#c6a0d8" stroke-width="0.9" />
<line x1="481.20" y1="363.90" x2="530.20" y2="391.40" stroke="#c6a0d8" stroke-width="0.9" />
<line x1="481.20" y1="363.90" x2="446.70" y2="408.00" stroke="#c6a0d8" stroke-width="0.9" />
<line x1="446.70" y1="408.00" x2="530.20" y2="391.40" stroke="#c6a0d8" stroke-width="0.9" />
<line x1="446.70" y1="408.00" x2="495.10" y2="435.50" stroke="#c6a0d8" stroke-width="0.9" />
<line x1="530.20" y1="391.40" x2="495.10" y2="435.50" stroke="#c6a0d8" stroke-width="0.9" />
<line x1="484.70" y1="401.50" x2="495.10" y2="435.50" stroke="#c6a0d8" stroke-width="0.9" />
<line x1="578.00" y1="590.10" x2="559.30" y2="545.30" stroke="#84d882" stroke-width="0.65" />
<line x1="578.00" y1="590.10" x2="551.00" y2="600.50" stroke="#c6a0d8" stroke-width="0.65" />
<line x1="578.00" y1="590.10" x2="537.20" y2="581.50" stroke="#c6a0d8" stroke-width="0.65" />
<line x1="578.00" y1="590.10" x2="539.40" y2="558.50" stroke="#c6a0d8" stroke-width="0.65" />
<line x1="578.00" y1="590.10" x2="575.50" y2="564.60" stroke="#84d882" stroke-width="0.65" />
<line x1="578.00" y1="590.10" x2="513.30" y2="604.50" stroke="#c6a0d8" stroke-width="0.65" />
<line x1="436.70" y1="489.50" x2="453.50" y2="562.20" stroke="#84d882" stroke-width="0.65" />
<line x1="436.70" y1="489.50" x2="506.60" y2="497.20" stroke="#c6a0d8" stroke-width="0.65" />
<line x1="436.70" y1="489.50" x2="448.90" y2="538.60" stroke="#94a9e0" stroke-width="0.65" />
<line x1="436.70" y1="489.50" x2="468.20" y2="479.70" stroke="#84d882" stroke-width="0.65" />
<line x1="436.70" y1="489.50" x2="465.20" y2="512.50" stroke="#c6a0d8" stroke-width="0.65" />
<line x1="470.40" y1="581.50" x2="512.70" y2="542.60" stroke="#84d882" stroke-width="0.65" />
<line x1="470.40" y1="581.50" x2="499.50" y2="522.60" stroke="#84d882" stroke-width="0.65" />
<line x1="470.40" y1="581.50" x2="514.20" y2="571.70" stroke="#84d882" stroke-width="0.65" />
<line x1="470.40" y1="581.50" x2="419.80" y2="554.50" stroke="#84d882" stroke-width="0.65" />
<line x1="470.40" y1="581.50" x2="551.00" y2="600.50" stroke="#84d882" stroke-width="0.65" />
<line x1="470.40" y1="581.50" x2="453.50" y2="562.20" stroke="#84d882" stroke-width="0.65" />
<line x1="470.40" y1="581.50" x2="537.20" y2="581.50" stroke="#84d882" stroke-width="0.65" />
<line x1="470.40" y1="581.50" x2="491.90" y2="632.70" stroke="#84d882" stroke-width="0.65" />
<line x1="470.40" y1="581.50" x2="524.30" y2="641.30" stroke="#84d882" stroke-width="0.65" />
<line x1="470.40" y1="581.50" x2="438.50" y2="596.20" stroke="#84d882" stroke-width="0.65" />
<line x1="470.40" y1="581.50" x2="513.30" y2="604.50" stroke="#84d882" stroke-width="0.65" />
<line x1="470.40" y1="581.50" x2="448.90" y2="538.60" stroke="#c6a0d8" stroke-width="0.65" />
<line x1="470.40" y1="581.50" x2="482.70" y2="599.00" stroke="#d4cb90" stroke-width="0.65" />
<line x1="470.40" y1="581.50" x2="465.20" y2="512.50" stroke="#84d882" stroke-width="0.65" />
<line x1="470.40" y1="581.50" x2="483.00" y2="550.80" stroke="#c6a0d8" stroke-width="0.65" />
<line x1="609.90" y1="547.80" x2="548.00" y2="518.60" stroke="#84d882" stroke-width="0.65" />
<line x1="609.90" y1="547.80" x2="559.30" y2="545.30" stroke="#c6a0d8" stroke-width="0.65" />
<line x1="609.90" y1="547.80" x2="583.20" y2="524.80" stroke="#c6a0d8" stroke-width="0.65" />
<line x1="609.90" y1="547.80" x2="575.50" y2="564.60" stroke="#94a9e0" stroke-width="0.65" />
<line x1="609.90" y1="547.80" x2="534.20" y2="493.50" stroke="#c6a0d8" stroke-width="0.65" />
<line x1="548.00" y1="518.60" x2="512.70" y2="542.60" stroke="#84d882" stroke-width="0.65" />
<line x1="548.00" y1="518.60" x2="499.50" y2="522.60" stroke="#84d882" stroke-width="0.65" />
<line x1="548.00" y1="518.60" x2="514.20" y2="571.70" stroke="#84d882" stroke-width="0.65" />
<line x1="548.00" y1="518.60" x2="559.30" y2="545.30" stroke="#84d882" stroke-width="0.65" />
<line x1="548.00" y1="518.60" x2="551.00" y2="600.50" stroke="#84d882" stroke-width="0.65" />
<line x1="548.00" y1="518.60" x2="537.20" y2="581.50" stroke="#c6a0d8" stroke-width="0.65" />
<line x1="548.00" y1="518.60" x2="583.20" y2="524.80" stroke="#84d882" stroke-width="0.65" />
<line x1="548.00" y1="518.60" x2="559.60" y2="494.70" stroke="#84d882" stroke-width="0.65" />
<line x1="548.00" y1="518.60" x2="539.40" y2="558.50" stroke="#84d882" stroke-width="0.65" />
<line x1="548.00" y1="518.60" x2="512.70" y2="474.80" stroke="#94a9e0" stroke-width="0.65" />
<line x1="548.00" y1="518.60" x2="506.60" y2="497.20" stroke="#84d882" stroke-width="0.65" />
<line x1="548.00" y1="518.60" x2="534.20" y2="493.50" stroke="#84d882" stroke-width="0.65" />
<line x1="548.00" y1="518.60" x2="468.20" y2="479.70" stroke="#84d882" stroke-width="0.65" />
<line x1="548.00" y1="518.60" x2="465.20" y2="512.50" stroke="#94a9e0" stroke-width="0.65" />
<line x1="423.80" y1="517.10" x2="453.50" y2="562.20" stroke="#84d882" stroke-width="0.65" />
<line x1="423.80" y1="517.10" x2="448.90" y2="538.60" stroke="#84d882" stroke-width="0.65" />
<line x1="423.80" y1="517.10" x2="465.20" y2="512.50" stroke="#84d882" stroke-width="0.65" />
<line x1="423.80" y1="517.10" x2="483.00" y2="550.80" stroke="#84d882" stroke-width="0.65" />
<line x1="512.70" y1="542.60" x2="499.50" y2="522.60" stroke="#c6a0d8" stroke-width="0.65" />
<line x1="512.70" y1="542.60" x2="514.20" y2="571.70" stroke="#84d882" stroke-width="0.65" />
<line x1="512.70" y1="542.60" x2="559.30" y2="545.30" stroke="#84d882" stroke-width="0.65" />
<line x1="512.70" y1="542.60" x2="453.50" y2="562.20" stroke="#c6a0d8" stroke-width="0.65" />
<line x1="512.70" y1="542.60" x2="537.20" y2="581.50" stroke="#c6a0d8" stroke-width="0.65" />
<line x1="512.70" y1="542.60" x2="559.60" y2="494.70" stroke="#84d882" stroke-width="0.65" />
<line x1="512.70" y1="542.60" x2="539.40" y2="558.50" stroke="#94a9e0" stroke-width="0.65" />
<line x1="512.70" y1="542.60" x2="506.60" y2="497.20" stroke="#84d882" stroke-width="0.65" />
<line x1="512.70" y1="542.60" x2="534.20" y2="493.50" stroke="#84d882" stroke-width="0.65" />
<line x1="512.70" y1="542.60" x2="513.30" y2="604.50" stroke="#c6a0d8" stroke-width="0.65" />
<line x1="512.70" y1="542.60" x2="448.90" y2="538.60" stroke="#84d882" stroke-width="0.65" />
<line x1="512.70" y1="542.60" x2="482.70" y2="599.00" stroke="#84d882" stroke-width="0.65" />
<line x1="512.70" y1="542.60" x2="468.20" y2="479.70" stroke="#84d882" stroke-width="0.65" />
<line x1="512.70" y1="542.60" x2="465.20" y2="512.50" stroke="#84d882" stroke-width="0.65" />
<line x1="512.70" y1="542.60" x2="483.00" y2="550.80" stroke="#84d882" stroke-width="0.65" />
<line x1="499.50" y1="522.60" x2="514.20" y2="571.70" stroke="#84d882" stroke-width="0.65" />
<line x1="499.50" y1="522.60" x2="559.30" y2="545.30" stroke="#84d882" stroke-width="0.65" />
<line x1="499.50" y1="522.60" x2="453.50" y2="562.20" stroke="#84d882" stroke-width="0.65" />
<line x1="499.50" y1="522.60" x2="559.60" y2="494.70" stroke="#94a9e0" stroke-width="0.65" />
<line x1="499.50" y1="522.60" x2="539.40" y2="558.50" stroke="#84d882" stroke-width="0.65" />
<line x1="499.50" y1="522.60" x2="512.70" y2="474.80" stroke="#c6a0d8" stroke-width="0.65" />
<line x1="499.50" y1="522.60" x2="506.60" y2="497.20" stroke="#84d882" stroke-width="0.65" />
<line x1="499.50" y1="522.60" x2="575.50" y2="564.60" stroke="#84d882" stroke-width="0.65" />
<line x1="499.50" y1="522.60" x2="534.20" y2="493.50" stroke="#c6a0d8" stroke-width="0.65" />
<line x1="499.50" y1="522.60" x2="448.90" y2="538.60" stroke="#c6a0d8" stroke-width="0.65" />
<line x1="499.50" y1="522.60" x2="468.20" y2="479.70" stroke="#d4cb90" stroke-width="0.65" />
<line x1="499.50" y1="522.60" x2="465.20" y2="512.50" stroke="#84d882" stroke-width="0.65" />
<line x1="499.50" y1="522.60" x2="483.00" y2="550.80" stroke="#84d882" stroke-width="0.65" />
<line x1="514.20" y1="571.70" x2="559.30" y2="545.30" stroke="#84d882" stroke-width="0.65" />
<line x1="514.20" y1="571.70" x2="551.00" y2="600.50" stroke="#84d882" stroke-width="0.65" />
<line x1="514.20" y1="571.70" x2="453.50" y2="562.20" stroke="#84d882" stroke-width="0.65" />
<line x1="514.20" y1="571.70" x2="537.20" y2="581.50" stroke="#84d882" stroke-width="0.65" />
<line x1="514.20" y1="571.70" x2="491.90" y2="632.70" stroke="#84d882" stroke-width="0.65" />
<line x1="514.20" y1="571.70" x2="539.40" y2="558.50" stroke="#84d882" stroke-width="0.65" />
<line x1="514.20" y1="571.70" x2="506.60" y2="497.20" stroke="#c6a0d8" stroke-width="0.65" />
<line x1="514.20" y1="571.70" x2="575.50" y2="564.60" stroke="#c6a0d8" stroke-width="0.65" />
<line x1="514.20" y1="571.70" x2="513.30" y2="604.50" stroke="#84d882" stroke-width="0.65" />
<line x1="514.20" y1="571.70" x2="482.70" y2="599.00" stroke="#c6a0d8" stroke-width="0.65" />
<line x1="514.20" y1="571.70" x2="554.10" y2="625.00" stroke="#c6a0d8" stroke-width="0.65" />
<line x1="514.20" y1="571.70" x2="468.20" y2="479.70" stroke="#84d882" stroke-width="0.65" />
<line x1="514.20" y1="571.70" x2="465.20" y2="512.50" stroke="#c6a0d8" stroke-width="0.65" />
<line x1="514.20" y1="571.70" x2="483.00" y2="550.80" stroke="#84d882" stroke-width="0.65" />
<line x1="559.30" y1="545.30" x2="551.00" y2="600.50" stroke="#d4cb90" stroke-width="0.65" />
<line x1="559.30" y1="545.30" x2="537.20" y2="581.50" stroke="#94a9e0" stroke-width="0.65" />
<line x1="559.30" y1="545.30" x2="583.20" y2="524.80" stroke="#c6a0d8" stroke-width="0.65" />
<line x1="559.30" y1="545.30" x2="559.60" y2="494.70" stroke="#d4cb90" stroke-width="0.65" />
<line x1="559.30" y1="545.30" x2="539.40" y2="558.50" stroke="#c6a0d8" stroke-width="0.65" />
<line x1="559.30" y1="545.30" x2="512.70" y2="474.80" stroke="#c6a0d8" stroke-width="0.65" />
<line x1="559.30" y1="545.30" x2="575.50" y2="564.60" stroke="#c6a0d8" stroke-width="0.65" />
<line x1="559.30" y1="545.30" x2="534.20" y2="493.50" stroke="#c6a0d8" stroke-width="0.65" />
<line x1="559.30" y1="545.30" x2="513.30" y2="604.50" stroke="#84d882" stroke-width="0.65" />
<line x1="559.30" y1="545.30" x2="483.00" y2="550.80" stroke="#84d882" stroke-width="0.65" />
<line x1="419.80" y1="554.50" x2="453.50" y2="562.20" stroke="#84d882" stroke-width="0.65" />
<line x1="419.80" y1="554.50" x2="448.90" y2="538.60" stroke="#84d882" stroke-width="0.65" />
<line x1="419.80" y1="554.50" x2="482.70" y2="599.00" stroke="#84d882" stroke-width="0.65" />
<line x1="551.00" y1="600.50" x2="537.20" y2="581.50" stroke="#94a9e0" stroke-width="0.65" />
<line x1="551.00" y1="600.50" x2="491.90" y2="632.70" stroke="#84d882" stroke-width="0.65" />
<line x1="551.00" y1="600.50" x2="524.30" y2="641.30" stroke="#c6a0d8" stroke-width="0.65" />
<line x1="551.00" y1="600.50" x2="539.40" y2="558.50" stroke="#84d882" stroke-width="0.65" />
<line x1="551.00" y1="600.50" x2="575.50" y2="564.60" stroke="#84d882" stroke-width="0.65" />
<line x1="551.00" y1="600.50" x2="513.30" y2="604.50" stroke="#84d882" stroke-width="0.65" />
<line x1="551.00" y1="600.50" x2="482.70" y2="599.00" stroke="#84d882" stroke-width="0.65" />
<line x1="551.00" y1="600.50" x2="554.10" y2="625.00" stroke="#84d882" stroke-width="0.65" />
<line x1="453.50" y1="562.20" x2="506.60" y2="497.20" stroke="#94a9e0" stroke-width="0.65" />
<line x1="453.50" y1="562.20" x2="448.90" y2="538.60" stroke="#84d882" stroke-width="0.65" />
<line x1="453.50" y1="562.20" x2="482.70" y2="599.00" stroke="#c6a0d8" stroke-width="0.65" />
<line x1="453.50" y1="562.20" x2="468.20" y2="479.70" stroke="#84d882" stroke-width="0.65" />
<line x1="453.50" y1="562.20" x2="483.00" y2="550.80" stroke="#84d882" stroke-width="0.65" />
<line x1="537.20" y1="581.50" x2="524.30" y2="641.30" stroke="#84d882" stroke-width="0.65" />
<line x1="537.20" y1="581.50" x2="559.60" y2="494.70" stroke="#d4cb90" stroke-width="0.65" />
<line x1="537.20" y1="581.50" x2="539.40" y2="558.50" stroke="#c6a0d8" stroke-width="0.65" />
<line x1="537.20" y1="581.50" x2="575.50" y2="564.60" stroke="#c6a0d8" stroke-width="0.65" />
<line x1="537.20" y1="581.50" x2="482.70" y2="599.00" stroke="#d4cb90" stroke-width="0.65" />
<line x1="537.20" y1="581.50" x2="554.10" y2="625.00" stroke="#84d882" stroke-width="0.65" />
<line x1="537.20" y1="581.50" x2="483.00" y2="550.80" stroke="#94a9e0" stroke-width="0.65" />
<line x1="583.20" y1="524.80" x2="539.40" y2="558.50" stroke="#84d882" stroke-width="0.65" />
<line x1="583.20" y1="524.80" x2="506.60" y2="497.20" stroke="#84d882" stroke-width="0.65" />
<line x1="583.20" y1="524.80" x2="534.20" y2="493.50" stroke="#84d882" stroke-width="0.65" />
<line x1="491.90" y1="632.70" x2="513.30" y2="604.50" stroke="#c6a0d8" stroke-width="0.65" />
<line x1="491.90" y1="632.70" x2="554.10" y2="625.00" stroke="#84d882" stroke-width="0.65" />
<line x1="524.30" y1="641.30" x2="513.30" y2="604.50" stroke="#84d882" stroke-width="0.65" />
<line x1="524.30" y1="641.30" x2="482.70" y2="599.00" stroke="#84d882" stroke-width="0.65" />
<line x1="559.60" y1="494.70" x2="539.40" y2="558.50" stroke="#c6a0d8" stroke-width="0.65" />
<line x1="559.60" y1="494.70" x2="512.70" y2="474.80" stroke="#84d882" stroke-width="0.65" />
<line x1="559.60" y1="494.70" x2="506.60" y2="497.20" stroke="#84d882" stroke-width="0.65" />
<line x1="559.60" y1="494.70" x2="575.50" y2="564.60" stroke="#84d882" stroke-width="0.65" />
<line x1="559.60" y1="494.70" x2="534.20" y2="493.50" stroke="#84d882" stroke-width="0.65" />
<line x1="559.60" y1="494.70" x2="465.20" y2="512.50" stroke="#c6a0d8" stroke-width="0.65" />
<line x1="438.50" y1="596.20" x2="513.30" y2="604.50" stroke="#84d882" stroke-width="0.65" />
<line x1="438.50" y1="596.20" x2="448.90" y2="538.60" stroke="#84d882" stroke-width="0.65" />
<line x1="438.50" y1="596.20" x2="482.70" y2="599.00" stroke="#84d882" stroke-width="0.65" />
<line x1="438.50" y1="596.20" x2="483.00" y2="550.80" stroke="#84d882" stroke-width="0.65" />
<line x1="539.40" y1="558.50" x2="575.50" y2="564.60" stroke="#84d882" stroke-width="0.65" />
<line x1="539.40" y1="558.50" x2="513.30" y2="604.50" stroke="#84d882" stroke-width="0.65" />
<line x1="539.40" y1="558.50" x2="482.70" y2="599.00" stroke="#84d882" stroke-width="0.65" />
<line x1="539.40" y1="558.50" x2="465.20" y2="512.50" stroke="#84d882" stroke-width="0.65" />
<line x1="539.40" y1="558.50" x2="483.00" y2="550.80" stroke="#84d882" stroke-width="0.65" />
<line x1="512.70" y1="474.80" x2="506.60" y2="497.20" stroke="#c6a0d8" stroke-width="0.65" />
<line x1="512.70" y1="474.80" x2="534.20" y2="493.50" stroke="#84d882" stroke-width="0.65" />
<line x1="512.70" y1="474.80" x2="468.20" y2="479.70" stroke="#c6a0d8" stroke-width="0.65" />
<line x1="512.70" y1="474.80" x2="465.20" y2="512.50" stroke="#84d882" stroke-width="0.65" />
<line x1="512.70" y1="474.80" x2="483.00" y2="550.80" stroke="#c6a0d8" stroke-width="0.65" />
<line x1="506.60" y1="497.20" x2="534.20" y2="493.50" stroke="#94a9e0" stroke-width="0.65" />
<line x1="506.60" y1="497.20" x2="448.90" y2="538.60" stroke="#84d882" stroke-width="0.65" />
<line x1="506.60" y1="497.20" x2="468.20" y2="479.70" stroke="#84d882" stroke-width="0.65" />
<line x1="506.60" y1="497.20" x2="465.20" y2="512.50" stroke="#c6a0d8" stroke-width="0.65" />
<line x1="506.60" y1="497.20" x2="483.00" y2="550.80" stroke="#84d882" stroke-width="0.65" />
<line x1="575.50" y1="564.60" x2="513.30" y2="604.50" stroke="#84d882" stroke-width="0.65" />
<line x1="575.50" y1="564.60" x2="554.10" y2="625.00" stroke="#84d882" stroke-width="0.65" />
<line x1="534.20" y1="493.50" x2="468.20" y2="479.70" stroke="#84d882" stroke-width="0.65" />
<line x1="534.20" y1="493.50" x2="465.20" y2="512.50" stroke="#84d882" stroke-width="0.65" />
<line x1="513.30" y1="604.50" x2="448.90" y2="538.60" stroke="#c6a0d8" stroke-width="0.65" />
<line x1="513.30" y1="604.50" x2="482.70" y2="599.00" stroke="#94a9e0" stroke-width="0.65" />
<line x1="513.30" y1="604.50" x2="483.00" y2="550.80" stroke="#84d882" stroke-width="0.65" />
<line x1="448.90" y1="538.60" x2="482.70" y2="599.00" stroke="#c6a0d8" stroke-width="0.65" />
<line x1="448.90" y1="538.60" x2="468.20" y2="479.70" stroke="#84d882" stroke-width="0.65" />
<line x1="448.90" y1="538.60" x2="465.20" y2="512.50" stroke="#84d882" stroke-width="0.65" />
<line x1="448.90" y1="538.60" x2="483.00" y2="550.80" stroke="#84d882" stroke-width="0.65" />
<line x1="482.70" y1="599.00" x2="483.00" y2="550.80" stroke="#94a9e0" stroke-width="0.65" />
<line x1="468.20" y1="479.70" x2="465.20" y2="512.50" stroke="#84d882" stroke-width="0.65" />
<line x1="468.20" y1="479.70" x2="483.00" y2="550.80" stroke="#84d882" stroke-width="0.65" />
<line x1="465.20" y1="512.50" x2="483.00" y2="550.80" stroke="#94a9e0" stroke-width="0.65" />
<path d="M465.20 512.50 Q485.22 488.95 512.70 474.80" fill="none" stroke="#d4cb90" stroke-width="0.7" />
<line x1="468.20" y1="479.70" x2="465.20" y2="512.50" stroke="#93d3da" stroke-width="0.8" />
<path d="M468.20 479.70 Q489.46 468.30 512.70 474.80" fill="none" stroke="#d4cb90" stroke-width="0.8" />
<path d="M499.50 522.60 Q469.98 534.82 453.50 562.20" fill="none" stroke="#f5b97c" stroke-width="3.6" />
<circle cx="217.80" cy="326.40" r="5.25" fill="#0000f0" stroke="#0000a0" stroke-width="0.3" />
<circle cx="162.70" cy="341.60" r="5.25" fill="#0000f0" stroke="#0000a0" stroke-width="0.3" />
<circle cx="200.00" cy="388.30" r="5.25" fill="#0000f0" stroke="#0000a0" stroke-width="0.3" />
<circle cx="213.60" cy="431.00" r="5.25" fill="#0000f0" stroke="#0000a0" stroke-width="0.3" />
<circle cx="288.90" cy="322.20" r="5.25" fill="#0000f0" stroke="#0000a0" stroke-width="0.3" />
<circle cx="323.20" cy="330.80" r="5.25" fill="#0000f0" stroke="#0000a0" stroke-width="0.3" />
<circle cx="381.60" cy="322.90" r="5.25" fill="#0000f0" stroke="#0000a0" stroke-width="0.3" />
<circle cx="298.00" cy="359.10" r="5.25" fill="#0000f0" stroke="#0000a0" stroke-width="0.3" />
<circle cx="317.40" cy="391.10" r="5.25" fill="#0000f0" stroke="#0000a0" stroke-width="0.3" />
<circle cx="359.90" cy="365.40" r="5.25" fill="#0000f0" stroke="#0000a0" stroke-width="0.3" />
<circle cx="407.80" cy="374.70" r="5.25" fill="#0000f0" stroke="#0000a0" stroke-width="0.3" />
<circle cx="372.70" cy="412.10" r="5.25" fill="#0000f0" stroke="#0000a0" stroke-width="0.3" />
<circle cx="78.40" cy="428.30" r="5.25" fill="#0000f0" stroke="#0000a0" stroke-width="0.3" />
<circle cx="133.00" cy="448.20" r="5.25" fill="#0000f0" stroke="#0000a0" stroke-width="0.3" />
<circle cx="88.60" cy="462.80" r="5.25" fill="#0000f0" stroke="#0000a0" stroke-width="0.3" />
<circle cx="49.20" cy="475.90" r="5.25" fill="#0000f0" stroke="#0000a0" stroke-width="0.3" />
<circle cx="101.20" cy="496.90" r="5.25" fill="#0000f0" stroke="#0000a0" stroke-width="0.3" />
<circle cx="253.50" cy="453.50" r="5.25" fill="#0000f0" stroke="#0000a0" stroke-width="0.3" />
<circle cx="336.20" cy="441.10" r="5.25" fill="#0000f0" stroke="#0000a0" stroke-width="0.3" />
<circle cx="378.90" cy="452.50" r="5.25" fill="#0000f0" stroke="#0000a0" stroke-width="0.3" />
<circle cx="278.10" cy="474.70" r="5.25" fill="#0000f0" stroke="#0000a0" stroke-width="0.3" />
<circle cx="206.30" cy="493.20" r="5.25" fill="#0000f0" stroke="#0000a0" stroke-width="0.3" />
<circle cx="258.30" cy="500.50" r="5.25" fill="#0000f0" stroke="#0000a0" stroke-width="0.3" />
<circle cx="316.00" cy="494.00" r="5.25" fill="#0000f0" stroke="#0000a0" stroke-width="0.3" />
<circle cx="378.20" cy="492.90" r="5.25" fill="#0000f0" stroke="#0000a0" stroke-width="0.3" />
<circle cx="253.70" cy="537.50" r="5.25" fill="#0000f0" stroke="#0000a0" stroke-width="0.3" />
<circle cx="315.10" cy="555.80" r="5.25" fill="#0000f0" stroke="#0000a0" stroke-width="0.3" />
<circle cx="215.10" cy="592.90" r="5.25" fill="#0000f0" stroke="#0000a0" stroke-width="0.3" />
<circle cx="276.40" cy="599.70" r="5.25" fill="#0000f0" stroke="#0000a0" stroke-width="0.3" />
<circle cx="346.30" cy="596.60" r="5.25" fill="#0000f0" stroke="#0000a0" stroke-width="0.3" />
<circle cx="372.50" cy="631.00" r="5.25" fill="#0000f0" stroke="#0000a0" stroke-width="0.3" />
<circle cx="481.20" cy="363.90" r="3.90" fill="#ff0000" stroke="#8a0000" stroke-width="0.5" />
<circle cx="530.20" cy="391.40" r="3.90" fill="#ff0000" stroke="#8a0000" stroke-width="0.5" />
<circle cx="484.70" cy="401.50" r="3.90" fill="#ff0000" stroke="#8a0000" stroke-width="0.5" />
<circle cx="446.70" cy="408.00" r="3.90" fill="#ff0000" stroke="#8a0000" stroke-width="0.5" />
<circle cx="495.10" cy="435.50" r="3.90" fill="#ff0000" stroke="#8a0000" stroke-width="0.5" />
<circle cx="512.70" cy="474.80" r="3.55" fill="#ff0000" stroke="#8a0000" stroke-width="0.5" />
<circle cx="468.20" cy="479.70" r="3.55" fill="#ff0000" stroke="#8a0000" stroke-width="0.5" />
<circle cx="436.70" cy="489.50" r="3.55" fill="#ff0000" stroke="#8a0000" stroke-width="0.5" />
<circle cx="534.20" cy="493.50" r="3.55" fill="#ff0000" stroke="#8a0000" stroke-width="0.5" />
<circle cx="559.60" cy="494.70" r="3.55" fill="#ff0000" stroke="#8a0000" stroke-width="0.5" />
<circle cx="506.60" cy="497.20" r="3.55" fill="#ff0000" stroke="#8a0000" stroke-width="0.5" />
<circle cx="465.20" cy="512.50" r="3.55" fill="#ff0000" stroke="#8a0000" stroke-width="0.5" />
<circle cx="423.80" cy="517.10" r="3.55" fill="#ff0000" stroke="#8a0000" stroke-width="0.5" />
<circle cx="548.00" cy="518.60" r="3.55" fill="#ff0000" stroke="#8a0000" stroke-width="0.5" />
<circle cx="499.50" cy="522.60" r="3.55" fill="#ff0000" stroke="#8a0000" stroke-width="0.5" />
<circle cx="583.20" cy="524.80" r="3.55" fill="#ff0000" stroke="#8a0000" stroke-width="0.5" />
<circle cx="448.90" cy="538.60" r="3.55" fill="#ff0000" stroke="#8a0000" stroke-width="0.5" />
<circle cx="512.70" cy="542.60" r="3.55" fill="#ff0000" stroke="#8a0000" stroke-width="0.5" />
<circle cx="559.30" cy="545.30" r="3.55" fill="#ff0000" stroke="#8a0000" stroke-width="0.5" />
<circle cx="609.90" cy="547.80" r="3.55" fill="#ff0000" stroke="#8a0000" stroke-width="0.5" />
<circle cx="483.00" cy="550.80" r="3.55" fill="#ff0000" stroke="#8a0000" stroke-width="0.5" />
<circle cx="419.80" cy="554.50" r="3.55" fill="#ff0000" stroke="#8a0000" stroke-width="0.5" />
<circle cx="539.40" cy="558.50" r="3.55" fill="#ff0000" stroke="#8a0000" stroke-width="0.5" />
<circle cx="453.50" cy="562.20" r="3.55" fill="#ff0000" stroke="#8a0000" stroke-width="0.5" />
<circle cx="575.50" cy="564.60" r="3.55" fill="#ff0000" stroke="#8a0000" stroke-width="0.5" />
<circle cx="514.20" cy="571.70" r="3.55" fill="#ff0000" stroke="#8a0000" stroke-width="0.5" />
<circle cx="470.40" cy="581.50" r="3.55" fill="#ff0000" stroke="#8a0000" stroke-width="0.5" />
<circle cx="537.20" cy="581.50" r="3.55" fill="#ff0000" stroke="#8a0000" stroke-width="0.5" />
<circle cx="578.00" cy="590.10" r="3.55" fill="#ff0000" stroke="#8a0000" stroke-width="0.5" />
<circle cx="438.50" cy="596.20" r="3.55" fill="#ff0000" stroke="#8a0000" stroke-width="0.5" />
<circle cx="482.70" cy="599.00" r="3.55" fill="#ff0000" stroke="#8a0000" stroke-width="0.5" />
<circle cx="551.00" cy="600.50" r="3.55" fill="#ff0000" stroke="#8a0000" stroke-width="0.5" />
<circle cx="513.30" cy="604.50" r="3.55" fill="#ff0000" stroke="#8a0000" stroke-width="0.5" />
<circle cx="554.10" cy="625.00" r="3.55" fill="#ff0000" stroke="#8a0000" stroke-width="0.5" />
<circle cx="491.90" cy="632.70" r="3.55" fill="#ff0000" stroke="#8a0000" stroke-width="0.5" />
<circle cx="524.30" cy="641.30" r="3.55" fill="#ff0000" stroke="#8a0000" stroke-width="0.5" />
<text x="249.40" y="309.30" font-size="10.53" text-anchor="middle" dominant-baseline="central" fill="#1c1a1a" textLength="33.40" lengthAdjust="spacingAndGlyphs">SMADs</text>
<text x="79.10" y="409.30" font-size="10.53" text-anchor="middle" dominant-baseline="central" fill="#1c1a1a" textLength="55.20" lengthAdjust="spacingAndGlyphs">Epigenetics</text>
<text x="479.60" y="339.60" font-size="10.53" text-anchor="middle" dominant-baseline="central" fill="#1c1a1a" textLength="16.50" lengthAdjust="spacingAndGlyphs">RFs</text>
<text x="594.20" y="467.60" font-size="10.53" text-anchor="middle" dominant-baseline="central" fill="#1c1a1a" textLength="67.70" lengthAdjust="spacingAndGlyphs">CEBPB targets</text>
<text x="218.00" y="340.40" font-size="8.51" text-anchor="middle" dominant-baseline="central" fill="#1c1a1a" textLength="30.00" lengthAdjust="spacingAndGlyphs">KDM4C</text>
<text x="162.50" y="355.60" font-size="8.51" text-anchor="middle" dominant-baseline="central" fill="#1c1a1a" textLength="28.70" lengthAdjust="spacingAndGlyphs">KDM3A</text>
<text x="199.70" y="402.00" font-size="8.51" text-anchor="middle" dominant-baseline="central" fill="#1c1a1a" textLength="29.20" lengthAdjust="spacingAndGlyphs">KDM4B</text>
<text x="213.40" y="444.80" font-size="8.51" text-anchor="middle" dominant-baseline="central" fill="#1c1a1a" textLength="21.50" lengthAdjust="spacingAndGlyphs">BRD8</text>
<text x="288.60" y="334.60" font-size="8.51" text-anchor="middle" dominant-baseline="central" fill="#1c1a1a" textLength="28.00" lengthAdjust="spacingAndGlyphs">GPR39</text>
<text x="323.20" y="343.20" font-size="8.51" text-anchor="middle" dominant-baseline="central" fill="#1c1a1a" textLength="29.40" lengthAdjust="spacingAndGlyphs">SMAD3</text>
<text x="381.70" y="335.00" font-size="8.51" text-anchor="middle" dominant-baseline="central" fill="#1c1a1a" textLength="24.50" lengthAdjust="spacingAndGlyphs">SMOX</text>
<text x="296.70" y="371.20" font-size="8.51" text-anchor="middle" dominant-baseline="central" fill="#1c1a1a" textLength="21.80" lengthAdjust="spacingAndGlyphs">EGFR</text>
<text x="317.40" y="403.20" font-size="8.51" text-anchor="middle" dominant-baseline="central" fill="#1c1a1a" textLength="29.40" lengthAdjust="spacingAndGlyphs">SMAD6</text>
<text x="252.20" y="467.60" font-size="8.51" text-anchor="middle" dominant-baseline="central" fill="#1c1a1a" textLength="38.90" lengthAdjust="spacingAndGlyphs">SMARCB1</text>
<text x="278.10" y="489.40" font-size="8.51" text-anchor="middle" dominant-baseline="central" fill="#1c1a1a" textLength="26.90" lengthAdjust="spacingAndGlyphs">GSK3B</text>
<text x="256.40" y="515.00" font-size="8.51" text-anchor="middle" dominant-baseline="central" fill="#1c1a1a" textLength="28.50" lengthAdjust="spacingAndGlyphs">DICER1</text>
<text x="316.00" y="508.20" font-size="8.51" text-anchor="middle" dominant-baseline="central" fill="#1c1a1a" textLength="21.50" lengthAdjust="spacingAndGlyphs">TBX3</text>
<text x="381.70" y="465.90" font-size="8.51" text-anchor="middle" dominant-baseline="central" fill="#1c1a1a" textLength="34.00" lengthAdjust="spacingAndGlyphs">NFATC4</text>
<text x="381.70" y="507.90" font-size="8.51" text-anchor="middle" dominant-baseline="central" fill="#1c1a1a" textLength="43.00" lengthAdjust="spacingAndGlyphs">SLC22A1</text>
<text x="253.60" y="550.90" font-size="8.51" text-anchor="middle" dominant-baseline="central" fill="#1c1a1a" textLength="20.80" lengthAdjust="spacingAndGlyphs">TBX2</text>
<text x="215.10" y="606.80" font-size="8.51" text-anchor="middle" dominant-baseline="central" fill="#1c1a1a" textLength="27.60" lengthAdjust="spacingAndGlyphs">CASP9</text>
<text x="275.80" y="613.50" font-size="8.51" text-anchor="middle" dominant-baseline="central" fill="#1c1a1a" textLength="33.70" lengthAdjust="spacingAndGlyphs">NOTCH1</text>
<text x="345.40" y="610.40" font-size="8.51" text-anchor="middle" dominant-baseline="central" fill="#1c1a1a" textLength="18.40" lengthAdjust="spacingAndGlyphs">ZEB1</text>
<text x="371.60" y="645.10" font-size="8.51" text-anchor="middle" dominant-baseline="central" fill="#1c1a1a" textLength="29.10" lengthAdjust="spacingAndGlyphs">NFKBIA</text>
<text x="77.00" y="441.80" font-size="10.3" text-anchor="middle" dominant-baseline="central" fill="#1c1a1a" textLength="51.40" lengthAdjust="spacingAndGlyphs">HIST1H2AK</text>
<text x="131.00" y="461.90" font-size="10.3" text-anchor="middle" dominant-baseline="central" fill="#1c1a1a" textLength="51.10" lengthAdjust="spacingAndGlyphs">HIST1H2AE</text>
<text x="88.50" y="476.80" font-size="10.3" text-anchor="middle" dominant-baseline="central" fill="#1c1a1a" textLength="47.60" lengthAdjust="spacingAndGlyphs">HIST2H3A</text>
<text x="49.20" y="489.10" font-size="10.3" text-anchor="middle" dominant-baseline="central" fill="#1c1a1a" textLength="31.00" lengthAdjust="spacingAndGlyphs">H2AFX</text>
<text x="100.20" y="510.40" font-size="10.3" text-anchor="middle" dominant-baseline="central" fill="#1c1a1a" textLength="46.70" lengthAdjust="spacingAndGlyphs">HIST1H3D</text>
<rect x="346.60" y="371.90" width="26.80" height="10.30" fill="#fff" stroke="#111" stroke-width="0.8" />
<text x="360.00" y="377.35" font-size="8.51" text-anchor="middle" dominant-baseline="central" fill="#1c1a1a" textLength="22.50" lengthAdjust="spacingAndGlyphs">JUNB</text>
<rect x="396.30" y="380.60" width="22.20" height="10.50" fill="#fff" stroke="#111" stroke-width="0.8" />
<text x="407.40" y="386.15" font-size="8.51" text-anchor="middle" dominant-baseline="central" fill="#1c1a1a" textLength="17.50" lengthAdjust="spacingAndGlyphs">JUN</text>
<rect x="361.30" y="418.40" width="22.20" height="10.50" fill="#fff" stroke="#111" stroke-width="0.8" />
<text x="372.40" y="423.95" font-size="8.51" text-anchor="middle" dominant-baseline="central" fill="#1c1a1a" textLength="17.50" lengthAdjust="spacingAndGlyphs">FOS</text>
<rect x="313.40" y="448.50" width="44.60" height="12.70" fill="#fff" stroke="#111" stroke-width="0.8" />
<text x="335.70" y="455.15" font-size="8.51" text-anchor="middle" dominant-baseline="central" fill="#1c1a1a" textLength="29.40" lengthAdjust="spacingAndGlyphs">SMAD3</text>
<rect x="175.00" y="500.50" width="60.50" height="14.50" fill="#fff" stroke="#111" stroke-width="0.8" />
<text x="205.25" y="508.05" font-size="8.51" text-anchor="middle" dominant-baseline="central" fill="#1c1a1a" textLength="42.00" lengthAdjust="spacingAndGlyphs">SMARCA4</text>
<rect x="284.40" y="562.00" width="59.80" height="14.10" fill="#fff" stroke="#111" stroke-width="0.8" />
<text x="314.30" y="569.35" font-size="8.51" text-anchor="middle" dominant-baseline="central" fill="#1c1a1a" textLength="33.80" lengthAdjust="spacingAndGlyphs">HDAC11</text>
<text x="481.00" y="374.70" font-size="8.51" text-anchor="middle" dominant-baseline="central" fill="#1c1a1a" textLength="22.20" lengthAdjust="spacingAndGlyphs">ISG15</text>
<text x="529.40" y="402.80" font-size="8.51" text-anchor="middle" dominant-baseline="central" fill="#1c1a1a" textLength="44.10" lengthAdjust="spacingAndGlyphs">APOBEC3A</text>
<text x="484.20" y="412.70" font-size="8.51" text-anchor="middle" dominant-baseline="central" fill="#1c1a1a" textLength="24.30" lengthAdjust="spacingAndGlyphs">TRIM7</text>
<text x="445.80" y="419.00" font-size="8.51" text-anchor="middle" dominant-baseline="central" fill="#1c1a1a" textLength="27.10" lengthAdjust="spacingAndGlyphs">RSAD2</text>
<text x="494.30" y="446.50" font-size="8.51" text-anchor="middle" dominant-baseline="central" fill="#1c1a1a" textLength="26.90" lengthAdjust="spacingAndGlyphs">HERC5</text>
<text x="512.70" y="484.00" font-size="8.51" text-anchor="middle" dominant-baseline="central" fill="#1c1a1a" textLength="30.00" lengthAdjust="spacingAndGlyphs">MACF1</text>
<text x="468.20" y="488.90" font-size="8.51" text-anchor="middle" dominant-baseline="central" fill="#1c1a1a" textLength="29.00" lengthAdjust="spacingAndGlyphs">SYNE1</text>
<text x="436.70" y="498.70" font-size="8.51" text-anchor="middle" dominant-baseline="central" fill="#1c1a1a" textLength="19.00" lengthAdjust="spacingAndGlyphs">ADM</text>
<text x="534.20" y="502.70" font-size="8.51" text-anchor="middle" dominant-baseline="central" fill="#1c1a1a" textLength="18.00" lengthAdjust="spacingAndGlyphs">OTC</text>
<text x="559.60" y="503.90" font-size="8.51" text-anchor="middle" dominant-baseline="central" fill="#1c1a1a" textLength="13.00" lengthAdjust="spacingAndGlyphs">IL8</text>
<text x="506.60" y="505.80" font-size="8.51" text-anchor="middle" dominant-baseline="central" fill="#1c1a1a" textLength="27.00" lengthAdjust="spacingAndGlyphs">MAGI1</text>
<text x="465.20" y="522.30" font-size="8.51" text-anchor="middle" dominant-baseline="central" fill="#1c1a1a" textLength="29.00" lengthAdjust="spacingAndGlyphs">SYNE2</text>
<text x="423.80" y="526.30" font-size="8.51" text-anchor="middle" dominant-baseline="central" fill="#1c1a1a" textLength="33.00" lengthAdjust="spacingAndGlyphs">BCL2L1</text>
<text x="548.00" y="527.80" font-size="8.51" text-anchor="middle" dominant-baseline="central" fill="#1c1a1a" textLength="42.60" lengthAdjust="spacingAndGlyphs">ARHGAP21</text>
<text x="499.50" y="531.80" font-size="8.51" text-anchor="middle" dominant-baseline="central" fill="#1c1a1a" textLength="35.00" lengthAdjust="spacingAndGlyphs">CDKN1A</text>
<text x="583.20" y="534.00" font-size="8.51" text-anchor="middle" dominant-baseline="central" fill="#1c1a1a" textLength="19.00" lengthAdjust="spacingAndGlyphs">IL24</text>
<text x="448.90" y="547.80" font-size="8.51" text-anchor="middle" dominant-baseline="central" fill="#1c1a1a" textLength="24.00" lengthAdjust="spacingAndGlyphs">RND3</text>
<text x="512.70" y="551.80" font-size="8.51" text-anchor="middle" dominant-baseline="central" fill="#1c1a1a" textLength="37.00" lengthAdjust="spacingAndGlyphs">CACNB2</text>
<text x="559.30" y="554.50" font-size="8.51" text-anchor="middle" dominant-baseline="central" fill="#1c1a1a" textLength="18.00" lengthAdjust="spacingAndGlyphs">CRP</text>
<text x="609.90" y="557.00" font-size="8.51" text-anchor="middle" dominant-baseline="central" fill="#1c1a1a" textLength="38.00" lengthAdjust="spacingAndGlyphs">ALDH1A1</text>
<text x="483.00" y="560.00" font-size="8.51" text-anchor="middle" dominant-baseline="central" fill="#1c1a1a" textLength="22.00" lengthAdjust="spacingAndGlyphs">TOP1</text>
<text x="419.80" y="563.70" font-size="8.51" text-anchor="middle" dominant-baseline="central" fill="#1c1a1a" textLength="35.00" lengthAdjust="spacingAndGlyphs">CUEDC1</text>
<text x="539.40" y="567.70" font-size="8.51" text-anchor="middle" dominant-baseline="central" fill="#1c1a1a" textLength="28.00" lengthAdjust="spacingAndGlyphs">LRP1B</text>
<text x="453.50" y="571.40" font-size="8.51" text-anchor="middle" dominant-baseline="central" fill="#1c1a1a" textLength="40.80" lengthAdjust="spacingAndGlyphs">GADD45G</text>
<text x="575.50" y="573.80" font-size="8.51" text-anchor="middle" dominant-baseline="central" fill="#1c1a1a" textLength="45.00" lengthAdjust="spacingAndGlyphs">NAALADL2</text>
<text x="514.20" y="580.90" font-size="8.51" text-anchor="middle" dominant-baseline="central" fill="#1c1a1a" textLength="28.00" lengthAdjust="spacingAndGlyphs">CREB5</text>
<text x="470.40" y="590.70" font-size="8.51" text-anchor="middle" dominant-baseline="central" fill="#1c1a1a" textLength="17.00" lengthAdjust="spacingAndGlyphs">ALB</text>
<text x="537.20" y="590.70" font-size="8.51" text-anchor="middle" dominant-baseline="central" fill="#1c1a1a" textLength="26.00" lengthAdjust="spacingAndGlyphs">IL12B</text>
<text x="578.00" y="599.30" font-size="8.51" text-anchor="middle" dominant-baseline="central" fill="#1c1a1a" textLength="28.00" lengthAdjust="spacingAndGlyphs">ABCB1</text>
<text x="438.50" y="605.40" font-size="8.51" text-anchor="middle" dominant-baseline="central" fill="#1c1a1a" textLength="26.00" lengthAdjust="spacingAndGlyphs">ITGB5</text>
<text x="482.70" y="608.20" font-size="8.51" text-anchor="middle" dominant-baseline="central" fill="#1c1a1a" textLength="36.00" lengthAdjust="spacingAndGlyphs">SEMA3C</text>
<text x="551.00" y="609.70" font-size="8.51" text-anchor="middle" dominant-baseline="central" fill="#1c1a1a" textLength="21.00" lengthAdjust="spacingAndGlyphs">DLC1</text>
<text x="513.30" y="613.70" font-size="8.51" text-anchor="middle" dominant-baseline="central" fill="#1c1a1a" textLength="16.00" lengthAdjust="spacingAndGlyphs">PRL</text>
<text x="554.10" y="634.20" font-size="8.51" text-anchor="middle" dominant-baseline="central" fill="#1c1a1a" textLength="29.00" lengthAdjust="spacingAndGlyphs">SFTPD</text>
<text x="491.90" y="641.90" font-size="8.51" text-anchor="middle" dominant-baseline="central" fill="#1c1a1a" textLength="13.00" lengthAdjust="spacingAndGlyphs">IL4</text>
<text x="524.30" y="650.50" font-size="8.51" text-anchor="middle" dominant-baseline="central" fill="#1c1a1a" textLength="13.00" lengthAdjust="spacingAndGlyphs">IL5</text>
<text x="567.70" y="329.10" font-size="8.62" text-anchor="start" dominant-baseline="central" fill="#1c1a1a" textLength="37.60" lengthAdjust="spacingAndGlyphs">Networks</text>
<rect x="567.30" y="339.80" width="9.10" height="9.00" fill="#c6a0d8" stroke="none" stroke-width="0.6" />
<text x="579.50" y="344.30" font-size="7.73" text-anchor="start" dominant-baseline="central" fill="#1c1a1a" textLength="44.40" lengthAdjust="spacingAndGlyphs">Coexpression</text>
<rect x="567.30" y="354.97" width="9.10" height="9.00" fill="#e99a9c" stroke="none" stroke-width="0.6" />
<text x="579.50" y="359.47" font-size="7.73" text-anchor="start" dominant-baseline="central" fill="#1c1a1a" textLength="67.50" lengthAdjust="spacingAndGlyphs">Physical interactions</text>
<rect x="567.30" y="370.14" width="9.10" height="9.00" fill="#94a9e0" stroke="none" stroke-width="0.6" />
<text x="579.50" y="374.64" font-size="7.73" text-anchor="start" dominant-baseline="central" fill="#1c1a1a" textLength="46.50" lengthAdjust="spacingAndGlyphs">Colocalization</text>
<rect x="567.30" y="385.31" width="9.10" height="9.00" fill="#d4cb90" stroke="none" stroke-width="0.6" />
<text x="579.50" y="389.81" font-size="7.73" text-anchor="start" dominant-baseline="central" fill="#1c1a1a" textLength="78.50" lengthAdjust="spacingAndGlyphs">Shared protein domains</text>
<rect x="567.30" y="400.48" width="9.10" height="9.00" fill="#f5b97c" stroke="none" stroke-width="0.6" />
<text x="579.50" y="404.98" font-size="7.73" text-anchor="start" dominant-baseline="central" fill="#1c1a1a" textLength="31.60" lengthAdjust="spacingAndGlyphs">Predicted</text>
<rect x="567.30" y="415.65" width="9.10" height="9.00" fill="#93d3da" stroke="none" stroke-width="0.6" />
<text x="579.50" y="420.15" font-size="7.73" text-anchor="start" dominant-baseline="central" fill="#1c1a1a" textLength="27.40" lengthAdjust="spacingAndGlyphs">Pathway</text>
<rect x="567.30" y="430.82" width="9.10" height="9.00" fill="#84d882" stroke="none" stroke-width="0.6" />
<text x="579.50" y="435.32" font-size="7.73" text-anchor="start" dominant-baseline="central" fill="#1c1a1a" textLength="66.30" lengthAdjust="spacingAndGlyphs">Genetic interactions</text>
<text x="13.60" y="578.00" font-size="10.08" text-anchor="start" dominant-baseline="central" fill="#1c1a1a" textLength="15.60" lengthAdjust="spacingAndGlyphs">RFs</text>
<rect x="12.30" y="587.70" width="178.90" height="11.70" fill="#dcdcdc" stroke="none" stroke-width="0.6" />
<line x1="13.00" y1="600.70" x2="190.60" y2="600.70" stroke="#222" stroke-width="2.2" />
<line x1="12.80" y1="601.50" x2="12.80" y2="640.50" stroke="#d4d4d4" stroke-width="0.6" />
<text x="14.00" y="593.40" font-size="7.39" text-anchor="start" dominant-baseline="central" fill="#1c1a1a" textLength="24.50" lengthAdjust="spacingAndGlyphs">Gene-set</text>
<text x="127.60" y="593.40" font-size="7.39" text-anchor="start" dominant-baseline="central" fill="#1c1a1a" textLength="24.20" lengthAdjust="spacingAndGlyphs"><tspan font-style="italic">P</tspan> value</text>
<text x="174.60" y="593.40" font-size="7.39" text-anchor="middle" dominant-baseline="central" fill="#1c1a1a" textLength="10.70" lengthAdjust="spacingAndGlyphs">rho</text>
<line x1="121.20" y1="601.50" x2="121.20" y2="640.00" stroke="#c8c8c8" stroke-width="0.5" />
<line x1="158.20" y1="601.50" x2="158.20" y2="640.00" stroke="#c8c8c8" stroke-width="0.5" />
<line x1="190.40" y1="601.50" x2="190.40" y2="640.00" stroke="#c8c8c8" stroke-width="0.5" />
<line x1="13.00" y1="615.50" x2="190.40" y2="615.50" stroke="#c8c8c8" stroke-width="0.5" />
<line x1="13.00" y1="628.60" x2="190.40" y2="628.60" stroke="#c8c8c8" stroke-width="0.5" />
<line x1="13.00" y1="640.70" x2="192.00" y2="640.70" stroke="#222" stroke-width="1.1" />
<text x="14.00" y="609.20" font-size="8.96" text-anchor="start" dominant-baseline="central" fill="#ee3b2b" textLength="57.00" lengthAdjust="spacingAndGlyphs">CEBPB targets</text>
<text x="139.70" y="609.20" font-size="8.96" text-anchor="middle" dominant-baseline="central" fill="#1c1a1a" textLength="23.40" lengthAdjust="spacingAndGlyphs">0.016</text>
<text x="174.60" y="609.20" font-size="8.96" text-anchor="middle" dominant-baseline="central" fill="#1c1a1a" textLength="14.80" lengthAdjust="spacingAndGlyphs">0.71</text>
<text x="14.00" y="622.60" font-size="8.96" text-anchor="start" dominant-baseline="central" fill="#2f7dc4" textLength="54.80" lengthAdjust="spacingAndGlyphs">SMAD targets</text>
<text x="139.70" y="622.60" font-size="8.96" text-anchor="middle" dominant-baseline="central" fill="#1c1a1a" textLength="23.40" lengthAdjust="spacingAndGlyphs">0.033</text>
<text x="174.60" y="622.60" font-size="8.96" text-anchor="middle" dominant-baseline="central" fill="#1c1a1a" textLength="20.00" lengthAdjust="spacingAndGlyphs">−0.63</text>
<text x="15.00" y="635.60" font-size="8.96" text-anchor="start" dominant-baseline="central" fill="#2f7dc4" textLength="86.00" lengthAdjust="spacingAndGlyphs">Epigenetic regulation</text>
<text x="139.70" y="635.60" font-size="8.96" text-anchor="middle" dominant-baseline="central" fill="#1c1a1a" textLength="23.40" lengthAdjust="spacingAndGlyphs">0.009</text>
<text x="174.60" y="635.60" font-size="8.96" text-anchor="middle" dominant-baseline="central" fill="#1c1a1a" textLength="20.00" lengthAdjust="spacingAndGlyphs">−0.76</text>
<text x="5.00" y="616.50" font-size="9.18" text-anchor="middle" dominant-baseline="central" fill="#1c1a1a" textLength="48.80" lengthAdjust="spacingAndGlyphs" transform="rotate(-90 5.00 616.50)">SLEA scores</text>
<text x="0.20" y="683.20" font-size="14.8" text-anchor="start" dominant-baseline="central" fill="#000" font-weight="bold" style="stroke:#000;stroke-width:0.5">d</text>
<line x1="78.40" y1="691.80" x2="126.20" y2="691.90" stroke="#c6c6c6" stroke-width="1.4" />
<line x1="78.40" y1="691.80" x2="29.60" y2="743.10" stroke="#b4b4b4" stroke-width="0.9" />
<line x1="78.40" y1="691.80" x2="78.20" y2="743.10" stroke="#c0c0c0" stroke-width="1.2" />
<path d="M78.40 691.80 Q92.30 717.50 78.20 743.10" fill="none" stroke="#9a9a9a" stroke-width="0.7" />
<path d="M78.40 691.80 Q83.30 717.47 78.20 743.10" fill="none" stroke="#a8a8a8" stroke-width="0.6" />
<line x1="78.40" y1="691.80" x2="126.70" y2="742.80" stroke="#a8a8a8" stroke-width="0.8" />
<path d="M78.40 691.80 Q109.81 710.42 126.70 742.80" fill="none" stroke="#9a9a9a" stroke-width="0.7" />
<line x1="126.20" y1="691.90" x2="126.70" y2="742.80" stroke="#c0c0c0" stroke-width="1.2" />
<path d="M126.20 691.90 Q140.45 717.21 126.70 742.80" fill="none" stroke="#9a9a9a" stroke-width="0.7" />
<line x1="29.60" y1="743.10" x2="78.20" y2="743.10" stroke="#c6c6c6" stroke-width="1.4" />
<line x1="78.20" y1="743.10" x2="126.70" y2="742.80" stroke="#c6c6c6" stroke-width="1.4" />
<path d="M78.20 743.10 Q53.20 771.60 78.20 800.10" fill="none" stroke="#9a9a9a" stroke-width="0.65" />
<path d="M78.20 743.10 Q66.20 771.60 78.20 800.10" fill="none" stroke="#9a9a9a" stroke-width="0.65" />
<path d="M78.20 743.10 Q74.20 771.60 78.20 800.10" fill="none" stroke="#9a9a9a" stroke-width="0.65" />
<line x1="78.20" y1="743.10" x2="78.20" y2="800.10" stroke="#a0a0a0" stroke-width="0.8" />
<path d="M78.20 743.10 Q86.20 771.60 78.20 800.10" fill="none" stroke="#9a9a9a" stroke-width="0.65" />
<path d="M78.20 743.10 Q105.20 771.60 78.20 800.10" fill="none" stroke="#9b9b9b" stroke-width="3.0" />
<path d="M126.70 742.80 Q100.16 769.51 78.20 800.10" fill="none" stroke="#9a9a9a" stroke-width="0.7" />
<path d="M126.70 742.80 Q107.03 775.33 78.20 800.10" fill="none" stroke="#9a9a9a" stroke-width="0.7" />
<circle cx="78.40" cy="691.80" r="5.90" fill="#0000f0" stroke="none" stroke-width="0.5" />
<circle cx="29.60" cy="743.10" r="5.90" fill="#0000f0" stroke="none" stroke-width="0.5" />
<circle cx="78.20" cy="743.10" r="5.90" fill="#0000f0" stroke="none" stroke-width="0.5" />
<circle cx="78.20" cy="800.10" r="5.90" fill="#0000f0" stroke="none" stroke-width="0.5" />
<rect x="120.30" y="686.00" width="11.80" height="11.80" fill="#0000f0" stroke="none" stroke-width="0.6" />
<rect x="120.80" y="736.90" width="11.80" height="11.80" fill="#0000f0" stroke="none" stroke-width="0.6" />
<text x="78.30" y="704.20" font-size="9.3" text-anchor="middle" dominant-baseline="central" fill="#1c1a1a" textLength="29.60" lengthAdjust="spacingAndGlyphs">SMAD3</text>
<text x="127.30" y="704.20" font-size="9.3" text-anchor="middle" dominant-baseline="central" fill="#1c1a1a" textLength="27.80" lengthAdjust="spacingAndGlyphs">TGF-β2</text>
<text x="29.50" y="755.20" font-size="9.3" text-anchor="middle" dominant-baseline="central" fill="#1c1a1a" textLength="40.70" lengthAdjust="spacingAndGlyphs">SMARCA4</text>
<text x="78.00" y="755.20" font-size="9.3" text-anchor="middle" dominant-baseline="central" fill="#1c1a1a" textLength="14.90" lengthAdjust="spacingAndGlyphs">JUN</text>
<text x="127.40" y="755.20" font-size="9.3" text-anchor="middle" dominant-baseline="central" fill="#1c1a1a" textLength="26.30" lengthAdjust="spacingAndGlyphs">TGF-β1</text>
<text x="77.80" y="812.10" font-size="9.3" text-anchor="middle" dominant-baseline="central" fill="#1c1a1a" textLength="16.40" lengthAdjust="spacingAndGlyphs">FOS</text>
<rect x="129.90" y="779.90" width="10.50" height="11.30" fill="#a8a8a8" stroke="none" stroke-width="0.6" />
<circle cx="134.90" cy="800.20" r="5.80" fill="#a8a8a8" stroke="none" stroke-width="0.5" />
<text x="146.00" y="784.60" font-size="9.18" text-anchor="start" dominant-baseline="central" fill="#1c1a1a" textLength="64.50" lengthAdjust="spacingAndGlyphs">Plasma cytokine</text>
<text x="146.00" y="799.60" font-size="9.18" text-anchor="start" dominant-baseline="central" fill="#1c1a1a" textLength="66.30" lengthAdjust="spacingAndGlyphs">Gene expression</text>
<text x="128.50" y="817.40" font-size="9.63" text-anchor="start" dominant-baseline="central" fill="#1c1a1a" textLength="40.40" lengthAdjust="spacingAndGlyphs">Spearman</text>
<line x1="129.00" y1="828.80" x2="146.00" y2="828.80" stroke="#d0d0d0" stroke-width="1.0" />
<line x1="129.00" y1="836.70" x2="146.00" y2="836.70" stroke="#a8a8a8" stroke-width="1.2" />
<line x1="129.00" y1="844.70" x2="146.00" y2="844.70" stroke="#999999" stroke-width="2.6" />
<text x="151.00" y="828.80" font-size="7.5" text-anchor="start" dominant-baseline="central" fill="#1c1a1a" textLength="28.90" lengthAdjust="spacingAndGlyphs">rho &gt; 0.5</text>
<text x="151.00" y="836.70" font-size="7.5" text-anchor="start" dominant-baseline="central" fill="#1c1a1a" textLength="28.90" lengthAdjust="spacingAndGlyphs">rho &gt; 0.7</text>
<text x="151.00" y="844.70" font-size="7.5" text-anchor="start" dominant-baseline="central" fill="#1c1a1a" textLength="28.90" lengthAdjust="spacingAndGlyphs">rho &gt; 0.9</text>
<text x="218.60" y="683.20" font-size="14.8" text-anchor="start" dominant-baseline="central" fill="#000" font-weight="bold" style="stroke:#000;stroke-width:0.5">e</text>
<text x="251.70" y="710.00" font-size="11.2" text-anchor="middle" dominant-baseline="central" fill="#1c1a1a" textLength="56.00" lengthAdjust="spacingAndGlyphs" transform="rotate(-90 251.70 710.00)">CD4<tspan dy="-3" font-size="6">+</tspan><tspan dy="3"> T cells</tspan></text>
<circle cx="281.50" cy="687.80" r="7.40" fill="#e4e4e4" stroke="#fafafa" stroke-width="0.8" />
<circle cx="281.80" cy="688.30" r="5.10" fill="#cccccc" stroke="none" stroke-width="0.5" />
<circle cx="291.40" cy="687.20" r="7.40" fill="#e4e4e4" stroke="#fafafa" stroke-width="0.8" />
<circle cx="291.70" cy="687.70" r="5.10" fill="#cccccc" stroke="none" stroke-width="0.5" />
<circle cx="286.70" cy="692.40" r="7.40" fill="#e4e4e4" stroke="#fafafa" stroke-width="0.8" />
<circle cx="287.00" cy="692.90" r="5.10" fill="#cccccc" stroke="none" stroke-width="0.5" />
<circle cx="298.40" cy="696.00" r="7.40" fill="#e4e4e4" stroke="#fafafa" stroke-width="0.8" />
<circle cx="298.70" cy="696.50" r="5.10" fill="#cccccc" stroke="none" stroke-width="0.5" />
<circle cx="279.10" cy="698.90" r="7.40" fill="#e4e4e4" stroke="#fafafa" stroke-width="0.8" />
<circle cx="279.40" cy="699.40" r="5.10" fill="#cccccc" stroke="none" stroke-width="0.5" />
<circle cx="289.00" cy="703.30" r="7.40" fill="#e4e4e4" stroke="#fafafa" stroke-width="0.8" />
<circle cx="289.30" cy="703.80" r="5.10" fill="#cccccc" stroke="none" stroke-width="0.5" />
<circle cx="389.40" cy="687.60" r="7.40" fill="#e4e4e4" stroke="#fafafa" stroke-width="0.8" />
<circle cx="389.70" cy="688.10" r="5.10" fill="#cccccc" stroke="none" stroke-width="0.5" />
<circle cx="399.30" cy="687.00" r="7.40" fill="#e4e4e4" stroke="#fafafa" stroke-width="0.8" />
<circle cx="399.60" cy="687.50" r="5.10" fill="#cccccc" stroke="none" stroke-width="0.5" />
<circle cx="394.60" cy="692.20" r="7.40" fill="#e4e4e4" stroke="#fafafa" stroke-width="0.8" />
<circle cx="394.90" cy="692.70" r="5.10" fill="#cccccc" stroke="none" stroke-width="0.5" />
<circle cx="406.30" cy="695.80" r="7.40" fill="#e4e4e4" stroke="#fafafa" stroke-width="0.8" />
<circle cx="406.60" cy="696.30" r="5.10" fill="#cccccc" stroke="none" stroke-width="0.5" />
<circle cx="387.00" cy="698.70" r="7.40" fill="#e4e4e4" stroke="#fafafa" stroke-width="0.8" />
<circle cx="387.30" cy="699.20" r="5.10" fill="#cccccc" stroke="none" stroke-width="0.5" />
<circle cx="396.90" cy="703.10" r="7.40" fill="#e4e4e4" stroke="#fafafa" stroke-width="0.8" />
<circle cx="397.20" cy="703.60" r="5.10" fill="#cccccc" stroke="none" stroke-width="0.5" />
<circle cx="497.30" cy="687.20" r="7.40" fill="#e4e4e4" stroke="#fafafa" stroke-width="0.8" />
<circle cx="497.60" cy="687.70" r="5.10" fill="#cccccc" stroke="none" stroke-width="0.5" />
<circle cx="507.20" cy="686.60" r="7.40" fill="#e4e4e4" stroke="#fafafa" stroke-width="0.8" />
<circle cx="507.50" cy="687.10" r="5.10" fill="#cccccc" stroke="none" stroke-width="0.5" />
<circle cx="502.50" cy="691.80" r="7.40" fill="#e4e4e4" stroke="#fafafa" stroke-width="0.8" />
<circle cx="502.80" cy="692.30" r="5.10" fill="#cccccc" stroke="none" stroke-width="0.5" />
<circle cx="514.20" cy="695.40" r="7.40" fill="#e4e4e4" stroke="#fafafa" stroke-width="0.8" />
<circle cx="514.50" cy="695.90" r="5.10" fill="#cccccc" stroke="none" stroke-width="0.5" />
<circle cx="494.90" cy="698.30" r="7.40" fill="#e4e4e4" stroke="#fafafa" stroke-width="0.8" />
<circle cx="495.20" cy="698.80" r="5.10" fill="#cccccc" stroke="none" stroke-width="0.5" />
<circle cx="504.80" cy="702.70" r="7.40" fill="#e4e4e4" stroke="#fafafa" stroke-width="0.8" />
<circle cx="505.10" cy="703.20" r="5.10" fill="#cccccc" stroke="none" stroke-width="0.5" />
<circle cx="498.40" cy="693.40" r="0.55" fill="#b9503e" stroke="none" stroke-width="0.5" />
<circle cx="496.25" cy="695.99" r="0.55" fill="#b9503e" stroke="none" stroke-width="0.5" />
<circle cx="492.90" cy="696.30" r="0.55" fill="#b9503e" stroke="none" stroke-width="0.5" />
<circle cx="490.31" cy="694.15" r="0.55" fill="#b9503e" stroke="none" stroke-width="0.5" />
<circle cx="490.00" cy="690.80" r="0.55" fill="#b9503e" stroke="none" stroke-width="0.5" />
<circle cx="492.15" cy="688.21" r="0.55" fill="#b9503e" stroke="none" stroke-width="0.5" />
<circle cx="495.50" cy="687.90" r="0.55" fill="#b9503e" stroke="none" stroke-width="0.5" />
<circle cx="498.09" cy="690.05" r="0.55" fill="#b9503e" stroke="none" stroke-width="0.5" />
<path d="M496.68 692.87 L498.31 693.37 M495.41 694.40 L496.21 695.90 M493.43 694.58 L492.93 696.21 M491.90 693.31 L490.40 694.11 M491.72 691.33 L490.09 690.83 M492.99 689.80 L492.19 688.30 M494.97 689.62 L495.47 687.99 M496.50 690.89 L498.00 690.09 " fill="none" stroke="#b9503e" stroke-width="0.8" />
<circle cx="494.20" cy="692.10" r="2.60" fill="#cf6651" stroke="#b9503e" stroke-width="0.4" />
<circle cx="518.10" cy="696.30" r="0.55" fill="#b9503e" stroke="none" stroke-width="0.5" />
<circle cx="515.95" cy="698.89" r="0.55" fill="#b9503e" stroke="none" stroke-width="0.5" />
<circle cx="512.60" cy="699.20" r="0.55" fill="#b9503e" stroke="none" stroke-width="0.5" />
<circle cx="510.01" cy="697.05" r="0.55" fill="#b9503e" stroke="none" stroke-width="0.5" />
<circle cx="509.70" cy="693.70" r="0.55" fill="#b9503e" stroke="none" stroke-width="0.5" />
<circle cx="511.85" cy="691.11" r="0.55" fill="#b9503e" stroke="none" stroke-width="0.5" />
<circle cx="515.20" cy="690.80" r="0.55" fill="#b9503e" stroke="none" stroke-width="0.5" />
<circle cx="517.79" cy="692.95" r="0.55" fill="#b9503e" stroke="none" stroke-width="0.5" />
<path d="M516.38 695.77 L518.01 696.27 M515.11 697.30 L515.91 698.80 M513.13 697.48 L512.63 699.11 M511.60 696.21 L510.10 697.01 M511.42 694.23 L509.79 693.73 M512.69 692.70 L511.89 691.20 M514.67 692.52 L515.17 690.89 M516.20 693.79 L517.70 692.99 " fill="none" stroke="#b9503e" stroke-width="0.8" />
<circle cx="513.90" cy="695.00" r="2.60" fill="#cf6651" stroke="#b9503e" stroke-width="0.4" />
<circle cx="508.70" cy="702.90" r="0.55" fill="#b9503e" stroke="none" stroke-width="0.5" />
<circle cx="506.55" cy="705.49" r="0.55" fill="#b9503e" stroke="none" stroke-width="0.5" />
<circle cx="503.20" cy="705.80" r="0.55" fill="#b9503e" stroke="none" stroke-width="0.5" />
<circle cx="500.61" cy="703.65" r="0.55" fill="#b9503e" stroke="none" stroke-width="0.5" />
<circle cx="500.30" cy="700.30" r="0.55" fill="#b9503e" stroke="none" stroke-width="0.5" />
<circle cx="502.45" cy="697.71" r="0.55" fill="#b9503e" stroke="none" stroke-width="0.5" />
<circle cx="505.80" cy="697.40" r="0.55" fill="#b9503e" stroke="none" stroke-width="0.5" />
<circle cx="508.39" cy="699.55" r="0.55" fill="#b9503e" stroke="none" stroke-width="0.5" />
<path d="M506.98 702.37 L508.61 702.87 M505.71 703.90 L506.51 705.40 M503.73 704.08 L503.23 705.71 M502.20 702.81 L500.70 703.61 M502.02 700.83 L500.39 700.33 M503.29 699.30 L502.49 697.80 M505.27 699.12 L505.77 697.49 M506.80 700.39 L508.30 699.59 " fill="none" stroke="#b9503e" stroke-width="0.8" />
<circle cx="504.50" cy="701.60" r="2.60" fill="#cf6651" stroke="#b9503e" stroke-width="0.4" />
<circle cx="591.50" cy="686.30" r="7.40" fill="#e4e4e4" stroke="#fafafa" stroke-width="0.8" />
<circle cx="591.80" cy="686.80" r="5.10" fill="#cccccc" stroke="none" stroke-width="0.5" />
<circle cx="601.40" cy="685.70" r="7.40" fill="#e4e4e4" stroke="#fafafa" stroke-width="0.8" />
<circle cx="601.70" cy="686.20" r="5.10" fill="#cccccc" stroke="none" stroke-width="0.5" />
<circle cx="596.70" cy="690.90" r="7.40" fill="#e4e4e4" stroke="#fafafa" stroke-width="0.8" />
<circle cx="597.00" cy="691.40" r="5.10" fill="#cccccc" stroke="none" stroke-width="0.5" />
<circle cx="608.40" cy="694.50" r="7.40" fill="#e4e4e4" stroke="#fafafa" stroke-width="0.8" />
<circle cx="608.70" cy="695.00" r="5.10" fill="#cccccc" stroke="none" stroke-width="0.5" />
<circle cx="589.10" cy="697.40" r="7.40" fill="#e4e4e4" stroke="#fafafa" stroke-width="0.8" />
<circle cx="589.40" cy="697.90" r="5.10" fill="#cccccc" stroke="none" stroke-width="0.5" />
<circle cx="599.00" cy="701.80" r="7.40" fill="#e4e4e4" stroke="#fafafa" stroke-width="0.8" />
<circle cx="599.30" cy="702.30" r="5.10" fill="#cccccc" stroke="none" stroke-width="0.5" />
<circle cx="593.00" cy="692.60" r="0.55" fill="#b9503e" stroke="none" stroke-width="0.5" />
<circle cx="590.85" cy="695.19" r="0.55" fill="#b9503e" stroke="none" stroke-width="0.5" />
<circle cx="587.50" cy="695.50" r="0.55" fill="#b9503e" stroke="none" stroke-width="0.5" />
<circle cx="584.91" cy="693.35" r="0.55" fill="#b9503e" stroke="none" stroke-width="0.5" />
<circle cx="584.60" cy="690.00" r="0.55" fill="#b9503e" stroke="none" stroke-width="0.5" />
<circle cx="586.75" cy="687.41" r="0.55" fill="#b9503e" stroke="none" stroke-width="0.5" />
<circle cx="590.10" cy="687.10" r="0.55" fill="#b9503e" stroke="none" stroke-width="0.5" />
<circle cx="592.69" cy="689.25" r="0.55" fill="#b9503e" stroke="none" stroke-width="0.5" />
<path d="M591.28 692.07 L592.91 692.57 M590.01 693.60 L590.81 695.10 M588.03 693.78 L587.53 695.41 M586.50 692.51 L585.00 693.31 M586.32 690.53 L584.69 690.03 M587.59 689.00 L586.79 687.50 M589.57 688.82 L590.07 687.19 M591.10 690.09 L592.60 689.29 " fill="none" stroke="#b9503e" stroke-width="0.8" />
<circle cx="588.80" cy="691.30" r="2.60" fill="#cf6651" stroke="#b9503e" stroke-width="0.4" />
<circle cx="612.90" cy="695.90" r="0.55" fill="#b9503e" stroke="none" stroke-width="0.5" />
<circle cx="610.75" cy="698.49" r="0.55" fill="#b9503e" stroke="none" stroke-width="0.5" />
<circle cx="607.40" cy="698.80" r="0.55" fill="#b9503e" stroke="none" stroke-width="0.5" />
<circle cx="604.81" cy="696.65" r="0.55" fill="#b9503e" stroke="none" stroke-width="0.5" />
<circle cx="604.50" cy="693.30" r="0.55" fill="#b9503e" stroke="none" stroke-width="0.5" />
<circle cx="606.65" cy="690.71" r="0.55" fill="#b9503e" stroke="none" stroke-width="0.5" />
<circle cx="610.00" cy="690.40" r="0.55" fill="#b9503e" stroke="none" stroke-width="0.5" />
<circle cx="612.59" cy="692.55" r="0.55" fill="#b9503e" stroke="none" stroke-width="0.5" />
<path d="M611.18 695.37 L612.81 695.87 M609.91 696.90 L610.71 698.40 M607.93 697.08 L607.43 698.71 M606.40 695.81 L604.90 696.61 M606.22 693.83 L604.59 693.33 M607.49 692.30 L606.69 690.80 M609.47 692.12 L609.97 690.49 M611.00 693.39 L612.50 692.59 " fill="none" stroke="#b9503e" stroke-width="0.8" />
<circle cx="608.70" cy="694.60" r="2.60" fill="#cf6651" stroke="#b9503e" stroke-width="0.4" />
<circle cx="603.10" cy="701.80" r="0.55" fill="#b9503e" stroke="none" stroke-width="0.5" />
<circle cx="600.95" cy="704.39" r="0.55" fill="#b9503e" stroke="none" stroke-width="0.5" />
<circle cx="597.60" cy="704.70" r="0.55" fill="#b9503e" stroke="none" stroke-width="0.5" />
<circle cx="595.01" cy="702.55" r="0.55" fill="#b9503e" stroke="none" stroke-width="0.5" />
<circle cx="594.70" cy="699.20" r="0.55" fill="#b9503e" stroke="none" stroke-width="0.5" />
<circle cx="596.85" cy="696.61" r="0.55" fill="#b9503e" stroke="none" stroke-width="0.5" />
<circle cx="600.20" cy="696.30" r="0.55" fill="#b9503e" stroke="none" stroke-width="0.5" />
<circle cx="602.79" cy="698.45" r="0.55" fill="#b9503e" stroke="none" stroke-width="0.5" />
<path d="M601.38 701.27 L603.01 701.77 M600.11 702.80 L600.91 704.30 M598.13 702.98 L597.63 704.61 M596.60 701.71 L595.10 702.51 M596.42 699.73 L594.79 699.23 M597.69 698.20 L596.89 696.70 M599.67 698.02 L600.17 696.39 M601.20 699.29 L602.70 698.49 " fill="none" stroke="#b9503e" stroke-width="0.8" />
<circle cx="598.90" cy="700.50" r="2.60" fill="#cf6651" stroke="#b9503e" stroke-width="0.4" />
<defs><linearGradient id="arr" x1="0" y1="0" x2="1" y2="0"><stop offset="0" stop-color="#000" stop-opacity="0.05"/><stop offset="0.5" stop-color="#000" stop-opacity="0.6"/><stop offset="1" stop-color="#000"/></linearGradient></defs>
<rect x="320.00" y="708.55" width="42.30" height="1.50" fill="url(#arr)" stroke="none" stroke-width="0.6" />
<path d="M360.80 706.50 L367.30 709.30 L360.80 712.10 Z" fill="#000" stroke="none" stroke-width="0" />
<rect x="427.70" y="709.65" width="38.90" height="1.50" fill="url(#arr)" stroke="none" stroke-width="0.6" />
<path d="M465.10 707.60 L471.60 710.40 L465.10 713.20 Z" fill="#000" stroke="none" stroke-width="0" />
<rect x="531.50" y="708.45" width="42.00" height="1.50" fill="url(#arr)" stroke="none" stroke-width="0.6" />
<path d="M572.00 706.40 L578.50 709.20 L572.00 712.00 Z" fill="#000" stroke="none" stroke-width="0" />
<text x="341.20" y="700.90" font-size="9.18" text-anchor="middle" dominant-baseline="central" fill="#1c1a1a" textLength="17.70" lengthAdjust="spacingAndGlyphs">24 h</text>
<text x="449.30" y="703.00" font-size="9.18" text-anchor="middle" dominant-baseline="central" fill="#1c1a1a" textLength="17.30" lengthAdjust="spacingAndGlyphs">24 h</text>
<text x="553.50" y="701.60" font-size="9.18" text-anchor="middle" dominant-baseline="central" fill="#1c1a1a" textLength="25.20" lengthAdjust="spacingAndGlyphs">4 days</text>
<text x="289.10" y="720.10" font-size="11.2" text-anchor="middle" dominant-baseline="central" fill="#1c1a1a" textLength="36.20" lengthAdjust="spacingAndGlyphs">TGF-β ±</text>
<text x="288.90" y="732.10" font-size="11.2" text-anchor="middle" dominant-baseline="central" fill="#1c1a1a" textLength="48.80" lengthAdjust="spacingAndGlyphs">anti-TGF-β</text>
<text x="396.20" y="721.10" font-size="9.18" text-anchor="middle" dominant-baseline="central" fill="#1c1a1a" textLength="21.00" lengthAdjust="spacingAndGlyphs">IFN-β</text>
<text x="504.50" y="720.80" font-size="9.18" text-anchor="middle" dominant-baseline="central" fill="#1c1a1a" textLength="51.90" lengthAdjust="spacingAndGlyphs">HIV infection</text>
<text x="551.80" y="720.60" font-size="9.18" text-anchor="start" dominant-baseline="central" fill="#1c1a1a" textLength="92.10" lengthAdjust="spacingAndGlyphs">Evaluation of HIV<tspan dy="-2.5" font-size="5">+</tspan><tspan dy="2.5"> cells</tspan></text>
<text x="221.00" y="774.40" font-size="14.8" text-anchor="start" dominant-baseline="central" fill="#000" font-weight="bold" style="stroke:#000;stroke-width:0.5;dominant-baseline:auto">f</text>
<text x="335.60" y="774.40" font-size="14.8" text-anchor="start" dominant-baseline="central" fill="#000" font-weight="bold" style="stroke:#000;stroke-width:0.5;dominant-baseline:auto">g</text>
<text x="463.10" y="773.70" font-size="14.8" text-anchor="start" dominant-baseline="central" fill="#000" font-weight="bold" style="stroke:#000;stroke-width:0.5;dominant-baseline:auto">h</text>
<text x="561.40" y="773.70" font-size="14.8" text-anchor="start" dominant-baseline="central" fill="#000" font-weight="bold" style="stroke:#000;stroke-width:0.5;dominant-baseline:auto">i</text>
<rect x="276.40" y="818.50" width="16.00" height="93.30" fill="#d9d9d9" stroke="#111" stroke-width="0.75" />
<rect x="301.30" y="833.60" width="16.50" height="78.20" fill="#d9d9d9" stroke="#111" stroke-width="0.75" />
<line x1="284.40" y1="813.40" x2="284.40" y2="823.20" stroke="#111" stroke-width="0.75" />
<line x1="281.80" y1="813.40" x2="287.00" y2="813.40" stroke="#111" stroke-width="0.75" />
<line x1="281.80" y1="823.20" x2="287.00" y2="823.20" stroke="#111" stroke-width="0.75" />
<line x1="309.60" y1="826.40" x2="309.60" y2="840.50" stroke="#111" stroke-width="0.75" />
<line x1="307.00" y1="826.40" x2="312.20" y2="826.40" stroke="#111" stroke-width="0.75" />
<line x1="307.00" y1="840.50" x2="312.20" y2="840.50" stroke="#111" stroke-width="0.75" />
<circle cx="278.90" cy="804.60" r="2.50" fill="#9a5a10" stroke="none" stroke-width="0.5" />
<circle cx="284.50" cy="809.20" r="2.50" fill="#9b1b5a" stroke="none" stroke-width="0.5" />
<circle cx="290.30" cy="806.70" r="2.50" fill="#0a3cff" stroke="none" stroke-width="0.5" />
<circle cx="284.40" cy="827.70" r="2.50" fill="#000000" stroke="none" stroke-width="0.5" />
<circle cx="279.10" cy="831.50" r="2.50" fill="#ff9a10" stroke="none" stroke-width="0.5" />
<circle cx="290.00" cy="829.60" r="2.50" fill="#ff2a10" stroke="none" stroke-width="0.5" />
<circle cx="304.00" cy="815.60" r="2.50" fill="#9a5a10" stroke="none" stroke-width="0.5" />
<circle cx="315.40" cy="812.30" r="2.50" fill="#9b1b5a" stroke="none" stroke-width="0.5" />
<circle cx="309.60" cy="832.50" r="2.50" fill="#0a3cff" stroke="none" stroke-width="0.5" />
<circle cx="309.60" cy="839.20" r="2.50" fill="#ff2a10" stroke="none" stroke-width="0.5" />
<circle cx="304.00" cy="851.30" r="2.50" fill="#000000" stroke="none" stroke-width="0.5" />
<circle cx="315.40" cy="849.70" r="2.50" fill="#ff9a10" stroke="none" stroke-width="0.5" />
<line x1="267.60" y1="796.50" x2="267.60" y2="911.80" stroke="#444" stroke-width="0.8" />
<line x1="267.60" y1="911.80" x2="326.50" y2="911.80" stroke="#444" stroke-width="0.8" />
<line x1="264.70" y1="796.50" x2="267.60" y2="796.50" stroke="#444" stroke-width="0.8" />
<text x="261.90" y="796.50" font-size="7.62" text-anchor="end" dominant-baseline="central" fill="#1c1a1a">1,000</text>
<line x1="264.70" y1="819.50" x2="267.60" y2="819.50" stroke="#444" stroke-width="0.8" />
<text x="261.90" y="819.50" font-size="7.62" text-anchor="end" dominant-baseline="central" fill="#1c1a1a">800</text>
<line x1="264.70" y1="842.50" x2="267.60" y2="842.50" stroke="#444" stroke-width="0.8" />
<text x="261.90" y="842.50" font-size="7.62" text-anchor="end" dominant-baseline="central" fill="#1c1a1a">600</text>
<line x1="264.70" y1="865.60" x2="267.60" y2="865.60" stroke="#444" stroke-width="0.8" />
<text x="261.90" y="865.60" font-size="7.62" text-anchor="end" dominant-baseline="central" fill="#1c1a1a">400</text>
<line x1="264.70" y1="888.60" x2="267.60" y2="888.60" stroke="#444" stroke-width="0.8" />
<text x="261.90" y="888.60" font-size="7.62" text-anchor="end" dominant-baseline="central" fill="#1c1a1a">200</text>
<line x1="264.70" y1="911.80" x2="267.60" y2="911.80" stroke="#444" stroke-width="0.8" />
<text x="261.90" y="911.80" font-size="7.62" text-anchor="end" dominant-baseline="central" fill="#1c1a1a">0</text>
<line x1="284.40" y1="911.80" x2="284.40" y2="914.40" stroke="#444" stroke-width="0.8" />
<line x1="309.55" y1="911.80" x2="309.55" y2="914.40" stroke="#444" stroke-width="0.8" />
<text x="227.90" y="854.10" font-size="9.74" text-anchor="middle" dominant-baseline="central" fill="#1c1a1a" textLength="59.40" lengthAdjust="spacingAndGlyphs" transform="rotate(-90 227.90 854.10)">pSMAD2/3 MFI</text>
<text x="236.80" y="855.40" font-size="9.74" text-anchor="middle" dominant-baseline="central" fill="#1c1a1a" textLength="51.80" lengthAdjust="spacingAndGlyphs" transform="rotate(-90 236.80 855.40)">(of live CD3<tspan dy="-2.5" font-size="5">+</tspan><tspan dy="2.5">)</tspan></text>
<text x="287.70" y="918.00" font-size="8.74" text-anchor="end" dominant-baseline="central" fill="#1c1a1a" textLength="23.60" lengthAdjust="spacingAndGlyphs" transform="rotate(-45 287.70 918.00)">TGF-β</text>
<text x="312.20" y="918.00" font-size="8.74" text-anchor="end" dominant-baseline="central" fill="#1c1a1a" textLength="63.00" lengthAdjust="spacingAndGlyphs" transform="rotate(-45 312.20 918.00)">TGF-β + a-TGF-β</text>
<path d="M284.50 799.90 L284.50 795.40 L309.60 795.40 L309.60 807.10" fill="none" stroke="#222" stroke-width="0.75" />
<text x="278.80" y="789.10" font-size="8.29" text-anchor="start" dominant-baseline="central" fill="#1c1a1a" textLength="30.50" lengthAdjust="spacingAndGlyphs">**0.0081</text>
<rect x="391.40" y="895.50" width="13.30" height="12.30" fill="#d9d9d9" stroke="#111" stroke-width="0.75" />
<rect x="412.60" y="849.60" width="12.60" height="58.20" fill="#d9d9d9" stroke="#111" stroke-width="0.75" />
<rect x="432.60" y="883.80" width="12.80" height="24.00" fill="#d9d9d9" stroke="#111" stroke-width="0.75" />
<line x1="418.70" y1="840.70" x2="418.70" y2="857.90" stroke="#111" stroke-width="0.75" />
<line x1="416.10" y1="840.70" x2="421.30" y2="840.70" stroke="#111" stroke-width="0.75" />
<line x1="416.10" y1="857.90" x2="421.30" y2="857.90" stroke="#111" stroke-width="0.75" />
<line x1="438.90" y1="883.30" x2="438.90" y2="888.00" stroke="#111" stroke-width="0.75" />
<line x1="436.30" y1="883.30" x2="441.50" y2="883.30" stroke="#111" stroke-width="0.75" />
<line x1="436.30" y1="888.00" x2="441.50" y2="888.00" stroke="#111" stroke-width="0.75" />
<circle cx="393.70" cy="894.10" r="2.50" fill="#9a5a10" stroke="none" stroke-width="0.5" />
<circle cx="395.80" cy="892.90" r="2.50" fill="#000000" stroke="none" stroke-width="0.5" />
<circle cx="400.20" cy="892.90" r="2.50" fill="#ff9a10" stroke="none" stroke-width="0.5" />
<circle cx="397.70" cy="894.10" r="2.50" fill="#9b1b5a" stroke="none" stroke-width="0.5" />
<circle cx="402.40" cy="895.50" r="2.50" fill="#ff2a10" stroke="none" stroke-width="0.5" />
<circle cx="418.70" cy="815.30" r="2.50" fill="#ff9a10" stroke="none" stroke-width="0.5" />
<circle cx="414.20" cy="855.60" r="2.50" fill="#9a5a10" stroke="none" stroke-width="0.5" />
<circle cx="418.70" cy="856.50" r="2.50" fill="#000000" stroke="none" stroke-width="0.5" />
<circle cx="423.00" cy="855.70" r="2.50" fill="#9b1b5a" stroke="none" stroke-width="0.5" />
<circle cx="418.70" cy="864.50" r="2.50" fill="#ff2a10" stroke="none" stroke-width="0.5" />
<circle cx="438.90" cy="877.10" r="2.50" fill="#ff9a10" stroke="none" stroke-width="0.5" />
<circle cx="434.50" cy="885.90" r="2.50" fill="#9b1b5a" stroke="none" stroke-width="0.5" />
<circle cx="439.20" cy="888.00" r="2.50" fill="#9a5a10" stroke="none" stroke-width="0.5" />
<circle cx="443.10" cy="885.90" r="2.50" fill="#ff2a10" stroke="none" stroke-width="0.5" />
<circle cx="439.20" cy="895.50" r="2.50" fill="#000000" stroke="none" stroke-width="0.5" />
<line x1="384.10" y1="806.50" x2="384.10" y2="907.80" stroke="#444" stroke-width="0.8" />
<line x1="384.10" y1="907.80" x2="450.60" y2="907.80" stroke="#444" stroke-width="0.8" />
<line x1="381.20" y1="806.50" x2="384.10" y2="806.50" stroke="#444" stroke-width="0.8" />
<text x="378.60" y="806.50" font-size="7.62" text-anchor="end" dominant-baseline="central" fill="#1c1a1a">2,500</text>
<line x1="381.20" y1="826.70" x2="384.10" y2="826.70" stroke="#444" stroke-width="0.8" />
<text x="378.60" y="826.70" font-size="7.62" text-anchor="end" dominant-baseline="central" fill="#1c1a1a">2,000</text>
<line x1="381.20" y1="847.00" x2="384.10" y2="847.00" stroke="#444" stroke-width="0.8" />
<text x="378.60" y="847.00" font-size="7.62" text-anchor="end" dominant-baseline="central" fill="#1c1a1a">1,500</text>
<line x1="381.20" y1="867.10" x2="384.10" y2="867.10" stroke="#444" stroke-width="0.8" />
<text x="378.60" y="867.10" font-size="7.62" text-anchor="end" dominant-baseline="central" fill="#1c1a1a">1,000</text>
<line x1="381.20" y1="887.30" x2="384.10" y2="887.30" stroke="#444" stroke-width="0.8" />
<text x="378.60" y="887.30" font-size="7.62" text-anchor="end" dominant-baseline="central" fill="#1c1a1a">500</text>
<line x1="381.20" y1="907.80" x2="384.10" y2="907.80" stroke="#444" stroke-width="0.8" />
<text x="378.60" y="907.80" font-size="7.62" text-anchor="end" dominant-baseline="central" fill="#1c1a1a">0</text>
<line x1="398.05" y1="907.80" x2="398.05" y2="910.40" stroke="#444" stroke-width="0.8" />
<line x1="418.90" y1="907.80" x2="418.90" y2="910.40" stroke="#444" stroke-width="0.8" />
<line x1="439.00" y1="907.80" x2="439.00" y2="910.40" stroke="#444" stroke-width="0.8" />
<text x="342.30" y="853.80" font-size="9.63" text-anchor="middle" dominant-baseline="central" fill="#1c1a1a" textLength="86.30" lengthAdjust="spacingAndGlyphs" transform="rotate(-90 342.30 853.80)">pSTAT1 median MFI</text>
<text x="351.80" y="857.40" font-size="9.63" text-anchor="middle" dominant-baseline="central" fill="#1c1a1a" textLength="94.70" lengthAdjust="spacingAndGlyphs" transform="rotate(-90 351.80 857.40)">(of CD3<tspan dy="-2.5" font-size="5">+</tspan><tspan dy="2.5">CD4</tspan><tspan dy="-2.5" font-size="5">+</tspan><tspan dy="2.5">CD45RA</tspan><tspan dy="-2.5" font-size="5">+</tspan><tspan dy="2.5">)</tspan></text>
<text x="400.60" y="916.00" font-size="8.74" text-anchor="end" dominant-baseline="central" fill="#1c1a1a" textLength="39.00" lengthAdjust="spacingAndGlyphs" transform="rotate(-45 400.60 916.00)">Untreated</text>
<text x="421.50" y="916.00" font-size="8.74" text-anchor="end" dominant-baseline="central" fill="#1c1a1a" textLength="22.00" lengthAdjust="spacingAndGlyphs" transform="rotate(-45 421.50 916.00)">IFN-β</text>
<text x="442.30" y="916.00" font-size="8.74" text-anchor="end" dominant-baseline="central" fill="#1c1a1a" textLength="52.50" lengthAdjust="spacingAndGlyphs" transform="rotate(-45 442.30 916.00)">TGF-β +IFN-β</text>
<path d="M398.40 889.50 L398.40 776.90 L438.90 776.90 L438.90 875.40" fill="none" stroke="#222" stroke-width="0.75" />
<path d="M418.70 796.00 L418.70 791.60 L438.90 791.60 L438.90 800.00" fill="none" stroke="#222" stroke-width="0.75" />
<path d="M398.40 889.50 L398.40 806.70 L418.70 806.70 L418.70 810.90" fill="none" stroke="#222" stroke-width="0.75" />
<text x="396.70" y="771.10" font-size="8.29" text-anchor="start" dominant-baseline="central" fill="#1c1a1a" textLength="36.10" lengthAdjust="spacingAndGlyphs"><tspan font-size="5.2">NS</tspan> &gt;0.9999</text>
<text x="410.00" y="786.00" font-size="8.29" text-anchor="start" dominant-baseline="central" fill="#1c1a1a" textLength="29.20" lengthAdjust="spacingAndGlyphs"><tspan font-size="5.2">NS</tspan> 0.1733</text>
<text x="394.20" y="800.90" font-size="8.29" text-anchor="start" dominant-baseline="central" fill="#1c1a1a" textLength="26.30" lengthAdjust="spacingAndGlyphs">*0.0133</text>
<rect x="496.30" y="887.10" width="13.30" height="21.20" fill="#d9d9d9" stroke="#111" stroke-width="0.75" />
<rect x="516.30" y="844.90" width="13.40" height="63.40" fill="#d9d9d9" stroke="#111" stroke-width="0.75" />
<rect x="537.20" y="887.90" width="13.70" height="20.40" fill="#d9d9d9" stroke="#111" stroke-width="0.75" />
<circle cx="502.70" cy="875.90" r="2.50" fill="#0a3cff" stroke="none" stroke-width="0.5" />
<circle cx="500.40" cy="887.00" r="2.50" fill="#9b1b5a" stroke="none" stroke-width="0.5" />
<circle cx="505.30" cy="888.20" r="2.50" fill="#ff2a10" stroke="none" stroke-width="0.5" />
<circle cx="498.00" cy="889.50" r="2.50" fill="#ff9a10" stroke="none" stroke-width="0.5" />
<circle cx="502.70" cy="889.80" r="2.50" fill="#000000" stroke="none" stroke-width="0.5" />
<circle cx="507.20" cy="890.10" r="2.50" fill="#9a5a10" stroke="none" stroke-width="0.5" />
<circle cx="523.30" cy="832.80" r="2.50" fill="#ff9a10" stroke="none" stroke-width="0.5" />
<circle cx="518.80" cy="841.20" r="2.50" fill="#ff2a10" stroke="none" stroke-width="0.5" />
<circle cx="523.30" cy="840.50" r="2.50" fill="#0a3cff" stroke="none" stroke-width="0.5" />
<circle cx="528.10" cy="844.50" r="2.50" fill="#000000" stroke="none" stroke-width="0.5" />
<circle cx="523.30" cy="850.80" r="2.50" fill="#9b1b5a" stroke="none" stroke-width="0.5" />
<circle cx="523.30" cy="858.80" r="2.50" fill="#9a5a10" stroke="none" stroke-width="0.5" />
<circle cx="543.80" cy="877.80" r="2.50" fill="#0a3cff" stroke="none" stroke-width="0.5" />
<circle cx="539.30" cy="886.10" r="2.50" fill="#ff9a10" stroke="none" stroke-width="0.5" />
<circle cx="548.10" cy="885.50" r="2.50" fill="#ff2a10" stroke="none" stroke-width="0.5" />
<circle cx="543.80" cy="889.80" r="2.50" fill="#000000" stroke="none" stroke-width="0.5" />
<circle cx="548.10" cy="890.60" r="2.50" fill="#9b1b5a" stroke="none" stroke-width="0.5" />
<circle cx="539.30" cy="892.60" r="2.50" fill="#9a5a10" stroke="none" stroke-width="0.5" />
<line x1="489.20" y1="805.20" x2="489.20" y2="908.30" stroke="#444" stroke-width="0.8" />
<line x1="489.20" y1="908.30" x2="557.50" y2="908.30" stroke="#444" stroke-width="0.8" />
<line x1="486.30" y1="805.20" x2="489.20" y2="805.20" stroke="#444" stroke-width="0.8" />
<text x="483.40" y="805.20" font-size="7.62" text-anchor="end" dominant-baseline="central" fill="#1c1a1a">15</text>
<line x1="486.30" y1="839.70" x2="489.20" y2="839.70" stroke="#444" stroke-width="0.8" />
<text x="483.40" y="839.70" font-size="7.62" text-anchor="end" dominant-baseline="central" fill="#1c1a1a">10</text>
<line x1="486.30" y1="874.10" x2="489.20" y2="874.10" stroke="#444" stroke-width="0.8" />
<text x="483.40" y="874.10" font-size="7.62" text-anchor="end" dominant-baseline="central" fill="#1c1a1a">5</text>
<line x1="486.30" y1="908.30" x2="489.20" y2="908.30" stroke="#444" stroke-width="0.8" />
<text x="483.40" y="908.30" font-size="7.62" text-anchor="end" dominant-baseline="central" fill="#1c1a1a">0</text>
<line x1="502.95" y1="908.30" x2="502.95" y2="910.90" stroke="#444" stroke-width="0.8" />
<line x1="523.00" y1="908.30" x2="523.00" y2="910.90" stroke="#444" stroke-width="0.8" />
<line x1="544.05" y1="908.30" x2="544.05" y2="910.90" stroke="#444" stroke-width="0.8" />
<text x="467.50" y="857.30" font-size="9.86" text-anchor="middle" dominant-baseline="central" fill="#1c1a1a" textLength="95.60" lengthAdjust="spacingAndGlyphs" transform="rotate(-90 467.50 857.30)">Percentage of CD4-p24<tspan dy="-2.5" font-size="5">+</tspan></text>
<text x="505.00" y="915.50" font-size="8.74" text-anchor="end" dominant-baseline="central" fill="#1c1a1a" textLength="41.00" lengthAdjust="spacingAndGlyphs" transform="rotate(-45 505.00 915.50)">Untreated</text>
<text x="526.50" y="915.50" font-size="8.74" text-anchor="end" dominant-baseline="central" fill="#1c1a1a" textLength="23.60" lengthAdjust="spacingAndGlyphs" transform="rotate(-45 526.50 915.50)">TGF-β</text>
<text x="548.20" y="915.50" font-size="8.74" text-anchor="end" dominant-baseline="central" fill="#1c1a1a" textLength="64.00" lengthAdjust="spacingAndGlyphs" transform="rotate(-45 548.20 915.50)">TGF-β + a-TGF-β</text>
<path d="M502.40 813.50 L502.40 795.10 L543.80 795.10 L543.80 810.00" fill="none" stroke="#222" stroke-width="0.75" />
<line x1="502.40" y1="824.80" x2="502.40" y2="872.50" stroke="#222" stroke-width="0.75" />
<path d="M523.30 813.90 L523.30 809.50 L543.80 809.50 L543.80 874.00" fill="none" stroke="#222" stroke-width="0.75" />
<path d="M502.40 872.50 L502.40 824.80 L523.30 824.80 L523.30 829.30" fill="none" stroke="#222" stroke-width="0.75" />
<text x="505.60" y="789.10" font-size="8.29" text-anchor="start" dominant-baseline="central" fill="#1c1a1a" textLength="33.20" lengthAdjust="spacingAndGlyphs"><tspan font-size="5.2">NS</tspan> 0.9325</text>
<text x="507.20" y="803.90" font-size="8.29" text-anchor="start" dominant-baseline="central" fill="#1c1a1a" textLength="40.60" lengthAdjust="spacingAndGlyphs">****&lt;0.0001</text>
<text x="491.60" y="818.70" font-size="8.29" text-anchor="start" dominant-baseline="central" fill="#1c1a1a" textLength="35.40" lengthAdjust="spacingAndGlyphs">***0.0002</text>
<rect x="597.20" y="895.10" width="13.50" height="12.40" fill="#d9d9d9" stroke="#111" stroke-width="0.75" />
<rect x="617.60" y="868.10" width="13.70" height="39.40" fill="#d9d9d9" stroke="#111" stroke-width="0.75" />
<rect x="638.20" y="895.10" width="13.50" height="12.40" fill="#d9d9d9" stroke="#111" stroke-width="0.75" />
<circle cx="606.40" cy="879.90" r="2.50" fill="#0a3cff" stroke="none" stroke-width="0.5" />
<circle cx="601.60" cy="894.60" r="2.50" fill="#000000" stroke="none" stroke-width="0.5" />
<circle cx="605.10" cy="895.40" r="2.50" fill="#ff9a10" stroke="none" stroke-width="0.5" />
<circle cx="601.90" cy="900.30" r="2.50" fill="#9a5a10" stroke="none" stroke-width="0.5" />
<circle cx="608.00" cy="898.70" r="2.50" fill="#9b1b5a" stroke="none" stroke-width="0.5" />
<circle cx="610.90" cy="897.90" r="2.50" fill="#ff2a10" stroke="none" stroke-width="0.5" />
<circle cx="627.00" cy="840.80" r="2.50" fill="#0a3cff" stroke="none" stroke-width="0.5" />
<circle cx="622.40" cy="863.30" r="2.50" fill="#ff9a10" stroke="none" stroke-width="0.5" />
<circle cx="631.60" cy="864.10" r="2.50" fill="#9a5a10" stroke="none" stroke-width="0.5" />
<circle cx="627.00" cy="869.70" r="2.50" fill="#000000" stroke="none" stroke-width="0.5" />
<circle cx="627.00" cy="879.40" r="2.50" fill="#ff2a10" stroke="none" stroke-width="0.5" />
<circle cx="627.00" cy="889.30" r="2.50" fill="#9b1b5a" stroke="none" stroke-width="0.5" />
<circle cx="647.70" cy="875.00" r="2.50" fill="#0a3cff" stroke="none" stroke-width="0.5" />
<circle cx="647.70" cy="893.80" r="2.50" fill="#ff9a10" stroke="none" stroke-width="0.5" />
<circle cx="642.80" cy="900.30" r="2.50" fill="#9a5a10" stroke="none" stroke-width="0.5" />
<circle cx="646.10" cy="899.50" r="2.50" fill="#9b1b5a" stroke="none" stroke-width="0.5" />
<circle cx="649.40" cy="899.80" r="2.50" fill="#000000" stroke="none" stroke-width="0.5" />
<circle cx="651.80" cy="899.80" r="2.50" fill="#ff2a10" stroke="none" stroke-width="0.5" />
<line x1="592.40" y1="805.00" x2="592.40" y2="907.50" stroke="#444" stroke-width="0.8" />
<line x1="592.40" y1="907.50" x2="661.00" y2="907.50" stroke="#444" stroke-width="0.8" />
<line x1="589.50" y1="805.00" x2="592.40" y2="805.00" stroke="#444" stroke-width="0.8" />
<text x="587.40" y="805.00" font-size="7.62" text-anchor="end" dominant-baseline="central" fill="#1c1a1a">1.5</text>
<line x1="589.50" y1="839.20" x2="592.40" y2="839.20" stroke="#444" stroke-width="0.8" />
<text x="587.40" y="839.20" font-size="7.62" text-anchor="end" dominant-baseline="central" fill="#1c1a1a">1.0</text>
<line x1="589.50" y1="873.40" x2="592.40" y2="873.40" stroke="#444" stroke-width="0.8" />
<text x="587.40" y="873.40" font-size="7.62" text-anchor="end" dominant-baseline="central" fill="#1c1a1a">0.5</text>
<line x1="589.50" y1="907.50" x2="592.40" y2="907.50" stroke="#444" stroke-width="0.8" />
<text x="587.40" y="907.50" font-size="7.62" text-anchor="end" dominant-baseline="central" fill="#1c1a1a">0</text>
<line x1="606.40" y1="907.50" x2="606.40" y2="910.10" stroke="#444" stroke-width="0.8" />
<line x1="627.00" y1="907.50" x2="627.00" y2="910.10" stroke="#444" stroke-width="0.8" />
<line x1="647.30" y1="907.50" x2="647.30" y2="910.10" stroke="#444" stroke-width="0.8" />
<text x="566.20" y="857.30" font-size="9.86" text-anchor="middle" dominant-baseline="central" fill="#1c1a1a" textLength="95.60" lengthAdjust="spacingAndGlyphs" transform="rotate(-90 566.20 857.30)">Percentage of CD4-p24<tspan dy="-2.5" font-size="5">+</tspan></text>
<text x="610.50" y="915.50" font-size="8.74" text-anchor="end" dominant-baseline="central" fill="#1c1a1a" textLength="22.00" lengthAdjust="spacingAndGlyphs" transform="rotate(-45 610.50 915.50)">IFN-β</text>
<text x="631.00" y="915.50" font-size="8.74" text-anchor="end" dominant-baseline="central" fill="#1c1a1a" textLength="55.00" lengthAdjust="spacingAndGlyphs" transform="rotate(-45 631.00 915.50)">TGF-β + IFN-β</text>
<text x="651.20" y="915.50" font-size="8.74" text-anchor="end" dominant-baseline="central" fill="#1c1a1a" textLength="90.00" lengthAdjust="spacingAndGlyphs" transform="rotate(-45 651.20 915.50)">TGFβ- +a-TGF-β + IFN-β</text>
<path d="M606.40 809.50 L606.40 803.10 L647.70 803.10 L647.70 825.60" fill="none" stroke="#222" stroke-width="0.75" />
<path d="M606.40 876.50 L606.40 817.90 L627.60 817.90 L627.60 821.90" fill="none" stroke="#222" stroke-width="0.75" />
<path d="M627.60 836.80 L627.60 832.50 L647.70 832.50 L647.70 872.00" fill="none" stroke="#222" stroke-width="0.75" />
<line x1="647.70" y1="825.60" x2="647.70" y2="832.50" stroke="#222" stroke-width="0.75" />
<text x="608.00" y="797.00" font-size="8.29" text-anchor="start" dominant-baseline="central" fill="#1c1a1a" textLength="32.40" lengthAdjust="spacingAndGlyphs"><tspan font-size="5.2">NS</tspan> 0.9961</text>
<text x="599.20" y="812.00" font-size="8.29" text-anchor="start" dominant-baseline="central" fill="#1c1a1a" textLength="31.30" lengthAdjust="spacingAndGlyphs">**0.0049</text>
<text x="619.60" y="826.70" font-size="8.29" text-anchor="start" dominant-baseline="central" fill="#1c1a1a" textLength="31.30" lengthAdjust="spacingAndGlyphs">**0.0026</text>
</svg></body></html>
